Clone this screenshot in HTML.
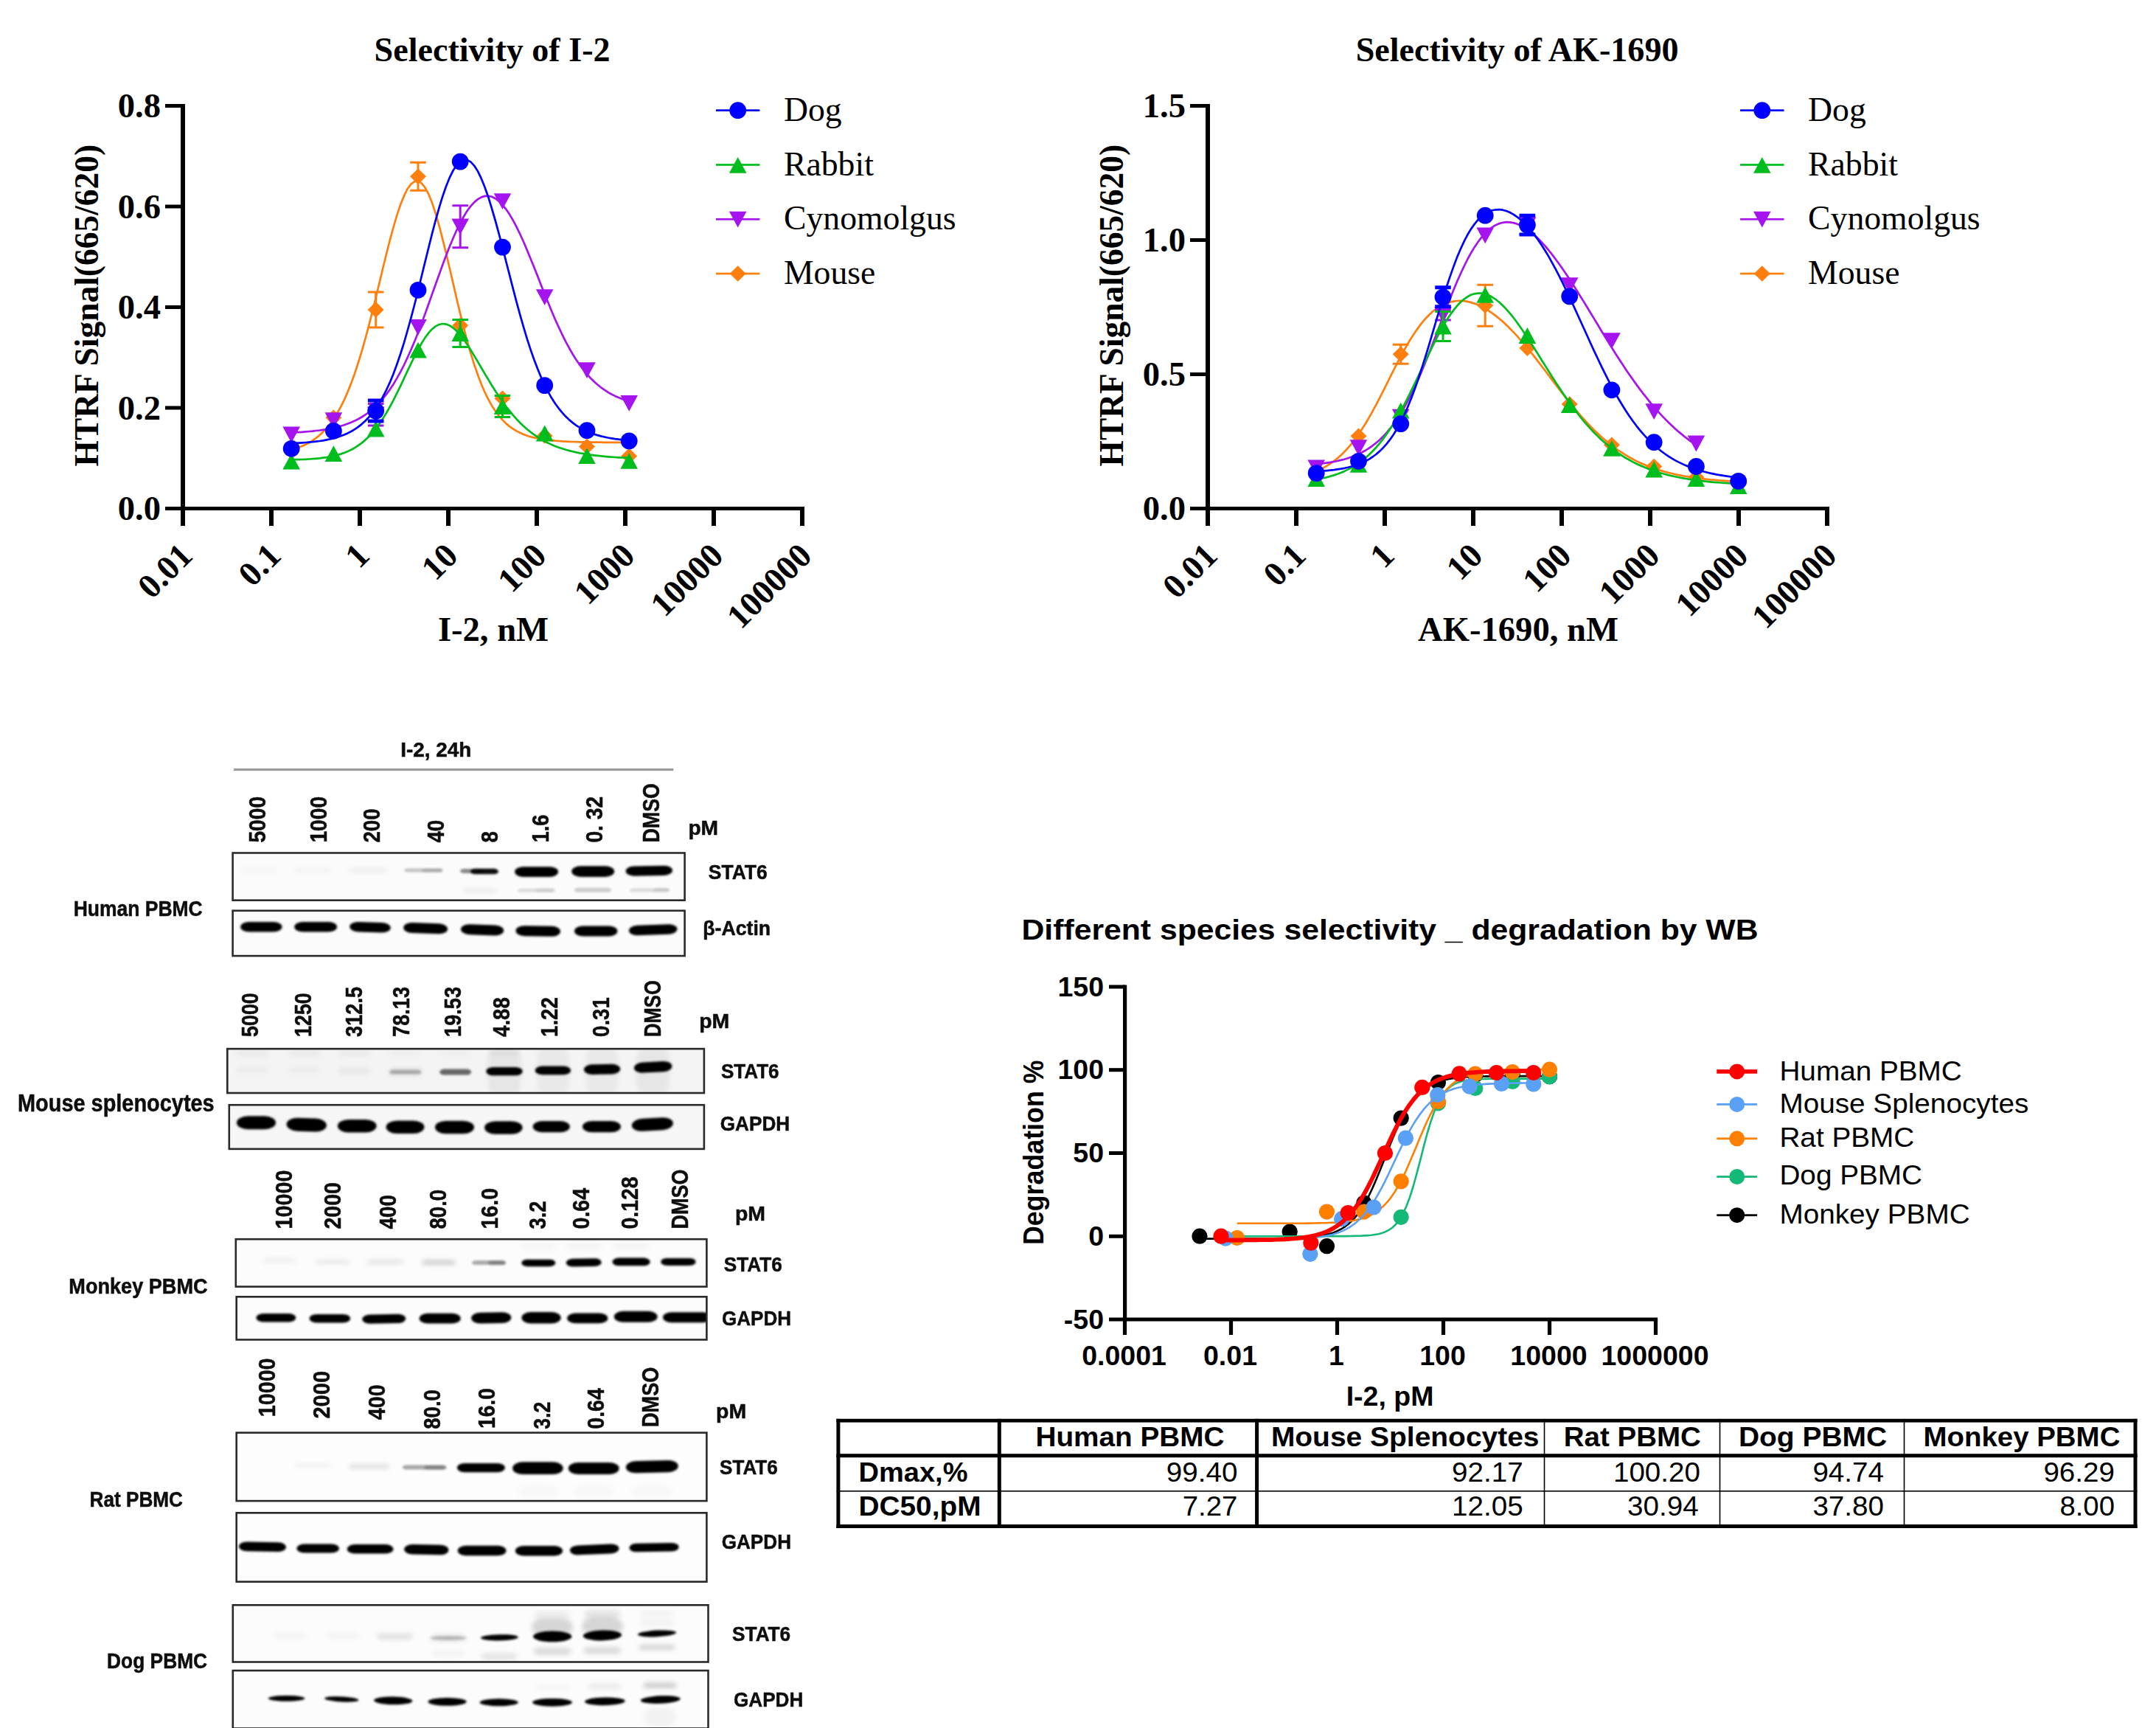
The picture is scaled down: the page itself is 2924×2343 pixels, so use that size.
<!DOCTYPE html>
<html><head><meta charset="utf-8"><title>Species selectivity</title>
<style>
html,body{margin:0;padding:0;background:#fff}
body{width:2924px;height:2343px;overflow:hidden}
svg{display:block}
text{white-space:pre}
</style></head><body>
<svg width="2924" height="2343" viewBox="0 0 2924 2343">
<defs>
<filter id="bl" x="-5%" y="-50%" width="110%" height="200%"><feGaussianBlur stdDeviation="1.5"/></filter>
<filter id="bl2" x="-5%" y="-50%" width="110%" height="200%"><feGaussianBlur stdDeviation="3.2"/></filter>
<filter id="tb" x="-3%" y="-12%" width="106%" height="124%"><feGaussianBlur stdDeviation="0.65"/></filter>
</defs>
<rect width="2924" height="2343" fill="#fff"/>
<g font-family="'Liberation Serif','DejaVu Serif',serif" font-weight="bold" font-size="46.6" fill="#000">
<text x="667.6" y="83" text-anchor="middle" font-size="46.1">Selectivity of I-2</text>
<rect x="245" y="141.0" width="6" height="551.0" fill="#000"/>
<rect x="224" y="687.0" width="867" height="5" fill="#000"/>
<text x="218" y="705.1" text-anchor="end">0.0</text>
<rect x="224" y="550.5" width="24" height="5" fill="#000"/>
<text x="218" y="568.6" text-anchor="end">0.2</text>
<rect x="224" y="414.0" width="24" height="5" fill="#000"/>
<text x="218" y="432.1" text-anchor="end">0.4</text>
<rect x="224" y="277.5" width="24" height="5" fill="#000"/>
<text x="218" y="295.6" text-anchor="end">0.6</text>
<rect x="224" y="141.0" width="24" height="5" fill="#000"/>
<text x="218" y="159.1" text-anchor="end">0.8</text>
<rect x="245" y="689.5" width="6" height="23.5" fill="#000"/>
<text transform="translate(263.5,756) rotate(-45)" text-anchor="end">0.01</text>
<rect x="365" y="689.5" width="6" height="23.5" fill="#000"/>
<text transform="translate(383.5,756) rotate(-45)" text-anchor="end">0.1</text>
<rect x="485" y="689.5" width="6" height="23.5" fill="#000"/>
<text transform="translate(503.5,756) rotate(-45)" text-anchor="end">1</text>
<rect x="605" y="689.5" width="6" height="23.5" fill="#000"/>
<text transform="translate(623.5,756) rotate(-45)" text-anchor="end">10</text>
<rect x="725" y="689.5" width="6" height="23.5" fill="#000"/>
<text transform="translate(743.5,756) rotate(-45)" text-anchor="end">100</text>
<rect x="845" y="689.5" width="6" height="23.5" fill="#000"/>
<text transform="translate(863.5,756) rotate(-45)" text-anchor="end">1000</text>
<rect x="965" y="689.5" width="6" height="23.5" fill="#000"/>
<text transform="translate(983.5,756) rotate(-45)" text-anchor="end">10000</text>
<rect x="1085" y="689.5" width="6" height="23.5" fill="#000"/>
<text transform="translate(1103.5,756) rotate(-45)" text-anchor="end">100000</text>
<text x="669" y="868.5" text-anchor="middle">I-2, nM</text>
<text transform="translate(133,632.4) rotate(-90)" font-size="47.2" textLength="436.5" lengthAdjust="spacingAndGlyphs">HTRF Signal(665/620)</text>
</g>
<path d="M395.2,609.9L400.0,608.5L404.7,606.8L409.5,605.0L414.3,602.8L419.1,600.3L423.8,597.4L428.6,594.0L433.4,590.1L438.1,585.7L442.9,580.6L447.7,574.7L452.4,568.1L457.2,560.5L462.0,551.9L466.8,542.3L471.5,531.6L476.3,519.6L481.1,506.4L485.8,492.0L490.6,476.3L495.4,459.5L500.2,441.6L504.9,422.9L509.7,403.5L514.5,383.8L519.2,364.0L524.0,344.5L528.8,325.7L533.6,308.0L538.3,291.9L543.1,277.6L547.9,265.7L552.6,256.2L557.4,249.6L562.2,246.1L567.0,245.6L571.7,248.4L576.5,254.3L581.3,263.3L586.0,275.1L590.8,289.4L595.6,306.0L600.3,324.3L605.1,343.8L609.9,364.2L614.7,384.9L619.4,405.4L624.2,425.4L629.0,444.6L633.7,462.6L638.5,479.4L643.3,494.7L648.1,508.5L652.8,521.0L657.6,532.0L662.4,541.7L667.1,550.2L671.9,557.5L676.7,563.9L681.5,569.4L686.2,574.1L691.0,578.1L695.8,581.5L700.5,584.4L705.3,586.8L710.1,588.9L714.8,590.7L719.6,592.2L724.4,593.4L729.2,594.5L733.9,595.3L738.7,596.1L743.5,596.7L748.2,597.2L753.0,597.7L757.8,598.0L762.6,598.4L767.3,598.6L772.1,598.8L776.9,599.0L781.6,599.2L786.4,599.3L791.2,599.4L796.0,599.5L800.7,599.6L805.5,599.6L810.3,599.7L815.0,599.7L819.8,599.8L824.6,599.8L829.3,599.8L834.1,599.8L838.9,599.9L843.7,599.9L848.4,599.9L853.2,599.9" fill="none" stroke="#ff7f0e" stroke-width="2.7" stroke-linejoin="round"/>
<path d="M509.7,395.9V443.9M498.9,395.9H520.5M498.9,443.9H520.5" stroke="#ff7f0e" stroke-width="3" fill="none"/>
<path d="M567.0,220.3V258.3M556.2,220.3H577.8M556.2,258.3H577.8" stroke="#ff7f0e" stroke-width="3" fill="none"/>
<polygon points="384.2,611.0 395.2,600.2 406.2,611.0 395.2,621.8" fill="#ff7f0e"/>
<polygon points="441.4,566.3 452.4,555.5 463.4,566.3 452.4,577.1" fill="#ff7f0e"/>
<polygon points="498.7,419.9 509.7,409.1 520.7,419.9 509.7,430.7" fill="#ff7f0e"/>
<polygon points="556.0,239.3 567.0,228.5 578.0,239.3 567.0,250.1" fill="#ff7f0e"/>
<polygon points="613.2,441.3 624.2,430.5 635.2,441.3 624.2,452.1" fill="#ff7f0e"/>
<polygon points="670.5,540.3 681.5,529.5 692.5,540.3 681.5,551.1" fill="#ff7f0e"/>
<polygon points="727.7,590.9 738.7,580.1 749.7,590.9 738.7,601.7" fill="#ff7f0e"/>
<polygon points="785.0,605.4 796.0,594.6 807.0,605.4 796.0,616.2" fill="#ff7f0e"/>
<polygon points="842.2,618.4 853.2,607.6 864.2,618.4 853.2,629.2" fill="#ff7f0e"/>
<path d="M395.2,586.6L400.0,586.3L404.7,586.1L409.5,585.8L414.3,585.4L419.1,585.0L423.8,584.6L428.6,584.0L433.4,583.5L438.1,582.8L442.9,582.0L447.7,581.1L452.4,580.2L457.2,579.0L462.0,577.7L466.8,576.3L471.5,574.6L476.3,572.7L481.1,570.6L485.8,568.2L490.6,565.5L495.4,562.4L500.2,559.0L504.9,555.1L509.7,550.8L514.5,546.0L519.2,540.6L524.0,534.7L528.8,528.1L533.6,520.9L538.3,512.9L543.1,504.3L547.9,495.0L552.6,485.0L557.4,474.3L562.2,462.9L567.0,450.9L571.7,438.5L576.5,425.6L581.3,412.3L586.0,398.9L590.8,385.5L595.6,372.1L600.3,359.0L605.1,346.3L609.9,334.1L614.7,322.6L619.4,312.0L624.2,302.2L629.0,293.5L633.7,285.8L638.5,279.4L643.3,274.1L648.1,270.1L652.8,267.4L657.6,265.9L662.4,265.7L667.1,266.8L671.9,269.2L676.7,272.8L681.5,277.6L686.2,283.6L691.0,290.6L695.8,298.7L700.5,307.7L705.3,317.5L710.1,328.0L714.8,339.1L719.6,350.7L724.4,362.5L729.2,374.6L733.9,386.7L738.7,398.8L743.5,410.6L748.2,422.1L753.0,433.2L757.8,443.8L762.6,453.9L767.3,463.4L772.1,472.2L776.9,480.5L781.6,488.1L786.4,495.0L791.2,501.4L796.0,507.2L800.7,512.5L805.5,517.2L810.3,521.5L815.0,525.3L819.8,528.7L824.6,531.8L829.3,534.5L834.1,536.9L838.9,539.1L843.7,541.0L848.4,542.6L853.2,544.1" fill="none" stroke="#a514ee" stroke-width="2.7" stroke-linejoin="round"/>
<path d="M509.7,547.6V577.0M498.9,547.6H520.5M498.9,577.0H520.5" stroke="#a514ee" stroke-width="3" fill="none"/>
<path d="M624.2,278.8V335.8M613.4,278.8H635.0M613.4,335.8H635.0" stroke="#a514ee" stroke-width="3" fill="none"/>
<polygon points="383.4,578.6 407.0,578.6 395.2,600.4" fill="#a514ee"/>
<polygon points="440.6,559.2 464.2,559.2 452.4,581.0" fill="#a514ee"/>
<polygon points="497.9,551.4 521.5,551.4 509.7,573.2" fill="#a514ee"/>
<polygon points="555.2,433.0 578.8,433.0 567.0,454.8" fill="#a514ee"/>
<polygon points="612.4,296.4 636.0,296.4 624.2,318.2" fill="#a514ee"/>
<polygon points="669.7,262.3 693.2,262.3 681.5,284.1" fill="#a514ee"/>
<polygon points="726.9,392.2 750.5,392.2 738.7,414.0" fill="#a514ee"/>
<polygon points="784.2,491.2 807.8,491.2 796.0,513.0" fill="#a514ee"/>
<polygon points="841.4,536.0 865.0,536.0 853.2,557.8" fill="#a514ee"/>
<path d="M395.2,623.3L400.0,623.2L404.7,623.1L409.5,623.0L414.3,622.8L419.1,622.5L423.8,622.2L428.6,621.8L433.4,621.3L438.1,620.7L442.9,620.1L447.7,619.2L452.4,618.2L457.2,617.0L462.0,615.6L466.8,614.0L471.5,612.1L476.3,609.8L481.1,607.2L485.8,604.1L490.6,600.6L495.4,596.6L500.2,592.1L504.9,586.9L509.7,581.1L514.5,574.7L519.2,567.6L524.0,559.9L528.8,551.5L533.6,542.6L538.3,533.2L543.1,523.3L547.9,513.2L552.6,503.1L557.4,493.0L562.2,483.2L567.0,474.0L571.7,465.5L576.5,457.9L581.3,451.4L586.0,446.2L590.8,442.4L595.6,440.0L600.3,439.0L605.1,439.6L609.9,441.4L614.7,444.6L619.4,448.9L624.2,454.2L629.0,460.4L633.7,467.3L638.5,474.7L643.3,482.6L648.1,490.6L652.8,498.7L657.6,506.9L662.4,514.9L667.1,522.7L671.9,530.3L676.7,537.5L681.5,544.5L686.2,551.0L691.0,557.1L695.8,562.9L700.5,568.2L705.3,573.2L710.1,577.8L714.8,582.0L719.6,585.8L724.4,589.4L729.2,592.6L733.9,595.6L738.7,598.3L743.5,600.7L748.2,602.9L753.0,604.9L757.8,606.7L762.6,608.3L767.3,609.8L772.1,611.1L776.9,612.3L781.6,613.4L786.4,614.4L791.2,615.2L796.0,616.0L800.7,616.7L805.5,617.3L810.3,617.9L815.0,618.4L819.8,618.9L824.6,619.3L829.3,619.6L834.1,620.0L838.9,620.3L843.7,620.5L848.4,620.7L853.2,621.0" fill="none" stroke="#00bd1e" stroke-width="2.7" stroke-linejoin="round"/>
<path d="M624.2,433.5V470.5M613.4,433.5H635.0M613.4,470.5H635.0" stroke="#00bd1e" stroke-width="3" fill="none"/>
<path d="M681.5,536.5V565.5M670.7,536.5H692.2M670.7,565.5H692.2" stroke="#00bd1e" stroke-width="3" fill="none"/>
<polygon points="383.4,636.6 407.0,636.6 395.2,614.8" fill="#00bd1e"/>
<polygon points="440.6,626.1 464.2,626.1 452.4,604.3" fill="#00bd1e"/>
<polygon points="497.9,592.6 521.5,592.6 509.7,570.8" fill="#00bd1e"/>
<polygon points="555.2,485.5 578.8,485.5 567.0,463.7" fill="#00bd1e"/>
<polygon points="612.4,462.9 636.0,462.9 624.2,441.1" fill="#00bd1e"/>
<polygon points="669.7,561.9 693.2,561.9 681.5,540.1" fill="#00bd1e"/>
<polygon points="726.9,598.4 750.5,598.4 738.7,576.6" fill="#00bd1e"/>
<polygon points="784.2,629.0 807.8,629.0 796.0,607.2" fill="#00bd1e"/>
<polygon points="841.4,635.7 865.0,635.7 853.2,613.9" fill="#00bd1e"/>
<path d="M395.2,601.1L400.0,600.9L404.7,600.7L409.5,600.4L414.3,600.0L419.1,599.6L423.8,599.2L428.6,598.6L433.4,598.0L438.1,597.3L442.9,596.4L447.7,595.4L452.4,594.3L457.2,592.9L462.0,591.3L466.8,589.5L471.5,587.4L476.3,585.0L481.1,582.1L485.8,578.9L490.6,575.1L495.4,570.8L500.2,565.8L504.9,560.2L509.7,553.7L514.5,546.4L519.2,538.1L524.0,528.8L528.8,518.4L533.6,506.8L538.3,494.0L543.1,480.0L547.9,464.9L552.6,448.5L557.4,431.2L562.2,413.0L567.0,394.1L571.7,374.7L576.5,355.1L581.3,335.7L586.0,316.8L590.8,298.7L595.6,281.7L600.3,266.2L605.1,252.4L609.9,240.6L614.7,230.9L619.4,223.7L624.2,218.8L629.0,216.5L633.7,216.8L638.5,219.6L643.3,224.8L648.1,232.4L652.8,242.2L657.6,254.1L662.4,267.7L667.1,283.0L671.9,299.5L676.7,317.1L681.5,335.3L686.2,354.0L691.0,372.7L695.8,391.3L700.5,409.4L705.3,426.9L710.1,443.6L714.8,459.4L719.6,474.1L724.4,487.8L729.2,500.3L733.9,511.7L738.7,522.1L743.5,531.4L748.2,539.8L753.0,547.2L757.8,553.8L762.6,559.7L767.3,564.8L772.1,569.4L776.9,573.4L781.6,576.8L786.4,579.9L791.2,582.5L796.0,584.8L800.7,586.8L805.5,588.6L810.3,590.1L815.0,591.4L819.8,592.5L824.6,593.5L829.3,594.3L834.1,595.1L838.9,595.7L843.7,596.3L848.4,596.7L853.2,597.2" fill="none" stroke="#0000ff" stroke-width="2.7" stroke-linejoin="round"/>
<path d="M509.7,543.1V571.1M498.9,543.1H520.5M498.9,571.1H520.5" stroke="#0000ff" stroke-width="5" fill="none"/>
<circle cx="395.2" cy="608.3" r="11.4" fill="#0000ff"/>
<circle cx="452.4" cy="584.3" r="11.4" fill="#0000ff"/>
<circle cx="509.7" cy="557.1" r="11.4" fill="#0000ff"/>
<circle cx="567.0" cy="393.3" r="11.4" fill="#0000ff"/>
<circle cx="624.2" cy="219.1" r="11.4" fill="#0000ff"/>
<circle cx="681.5" cy="335.1" r="11.4" fill="#0000ff"/>
<circle cx="738.7" cy="522.6" r="11.4" fill="#0000ff"/>
<circle cx="796.0" cy="583.7" r="11.4" fill="#0000ff"/>
<circle cx="853.2" cy="597.9" r="11.4" fill="#0000ff"/>
<g font-family="'Liberation Serif','DejaVu Serif',serif" font-size="45.7" fill="#000">
<rect x="971.0" y="148.3" width="59.4" height="2.7" fill="#0000ff"/>
<circle cx="1000.7" cy="149.7" r="11.4" fill="#0000ff"/>
<text x="1063" y="163.7">Dog</text>
<rect x="971.0" y="222.1" width="59.4" height="2.7" fill="#00bd1e"/>
<polygon points="988.9,234.8 1012.5,234.8 1000.7,213.0" fill="#00bd1e"/>
<text x="1063" y="237.5">Rabbit</text>
<rect x="971.0" y="295.9" width="59.4" height="2.7" fill="#a514ee"/>
<polygon points="988.9,286.7 1012.5,286.7 1000.7,308.5" fill="#a514ee"/>
<text x="1063" y="311.2">Cynomolgus</text>
<rect x="971.0" y="369.7" width="59.4" height="2.7" fill="#ff7f0e"/>
<polygon points="989.7,371.0 1000.7,360.2 1011.7,371.0 1000.7,381.8" fill="#ff7f0e"/>
<text x="1063" y="385.0">Mouse</text>
</g>
<g font-family="'Liberation Serif','DejaVu Serif',serif" font-weight="bold" font-size="46.6" fill="#000">
<text x="2057.6" y="83" text-anchor="middle" font-size="46.1">Selectivity of AK-1690</text>
<rect x="1635" y="141.0" width="6" height="551.0" fill="#000"/>
<rect x="1614" y="687.0" width="867" height="5" fill="#000"/>
<text x="1608" y="705.1" text-anchor="end">0.0</text>
<rect x="1614" y="505.0" width="24" height="5" fill="#000"/>
<text x="1608" y="523.1" text-anchor="end">0.5</text>
<rect x="1614" y="323.0" width="24" height="5" fill="#000"/>
<text x="1608" y="341.1" text-anchor="end">1.0</text>
<rect x="1614" y="141.0" width="24" height="5" fill="#000"/>
<text x="1608" y="159.1" text-anchor="end">1.5</text>
<rect x="1635" y="689.5" width="6" height="23.5" fill="#000"/>
<text transform="translate(1653.5,756) rotate(-45)" text-anchor="end">0.01</text>
<rect x="1755" y="689.5" width="6" height="23.5" fill="#000"/>
<text transform="translate(1773.5,756) rotate(-45)" text-anchor="end">0.1</text>
<rect x="1875" y="689.5" width="6" height="23.5" fill="#000"/>
<text transform="translate(1893.5,756) rotate(-45)" text-anchor="end">1</text>
<rect x="1995" y="689.5" width="6" height="23.5" fill="#000"/>
<text transform="translate(2013.5,756) rotate(-45)" text-anchor="end">10</text>
<rect x="2115" y="689.5" width="6" height="23.5" fill="#000"/>
<text transform="translate(2133.5,756) rotate(-45)" text-anchor="end">100</text>
<rect x="2235" y="689.5" width="6" height="23.5" fill="#000"/>
<text transform="translate(2253.5,756) rotate(-45)" text-anchor="end">1000</text>
<rect x="2355" y="689.5" width="6" height="23.5" fill="#000"/>
<text transform="translate(2373.5,756) rotate(-45)" text-anchor="end">10000</text>
<rect x="2475" y="689.5" width="6" height="23.5" fill="#000"/>
<text transform="translate(2493.5,756) rotate(-45)" text-anchor="end">100000</text>
<text x="2059" y="868.5" text-anchor="middle">AK-1690, nM</text>
<text transform="translate(1523,632.4) rotate(-90)" font-size="47.2" textLength="436.5" lengthAdjust="spacingAndGlyphs">HTRF Signal(665/620)</text>
</g>
<path d="M1785.2,639.0L1790.0,636.9L1794.7,634.4L1799.5,631.7L1804.3,628.7L1809.1,625.2L1813.8,621.4L1818.6,617.2L1823.4,612.5L1828.1,607.4L1832.9,601.8L1837.7,595.6L1842.5,589.0L1847.2,581.8L1852.0,574.2L1856.8,566.1L1861.5,557.6L1866.3,548.8L1871.1,539.6L1875.8,530.3L1880.6,520.8L1885.4,511.2L1890.2,501.7L1894.9,492.4L1899.7,483.3L1904.5,474.5L1909.2,466.2L1914.0,458.3L1918.8,450.9L1923.6,444.1L1928.3,437.9L1933.1,432.2L1937.9,427.2L1942.6,422.8L1947.4,419.1L1952.2,415.9L1957.0,413.2L1961.7,411.2L1966.5,409.6L1971.3,408.6L1976.0,408.0L1980.8,407.9L1985.6,408.2L1990.3,408.9L1995.1,410.1L1999.9,411.6L2004.7,413.5L2009.4,415.8L2014.2,418.4L2019.0,421.3L2023.7,424.6L2028.5,428.1L2033.3,432.0L2038.1,436.1L2042.8,440.5L2047.6,445.2L2052.4,450.1L2057.1,455.2L2061.9,460.6L2066.7,466.1L2071.4,471.8L2076.2,477.7L2081.0,483.7L2085.8,489.8L2090.5,496.0L2095.3,502.3L2100.1,508.6L2104.8,514.9L2109.6,521.2L2114.4,527.4L2119.2,533.6L2123.9,539.7L2128.7,545.7L2133.5,551.5L2138.2,557.2L2143.0,562.8L2147.8,568.2L2152.6,573.4L2157.3,578.4L2162.1,583.2L2166.9,587.8L2171.6,592.2L2176.4,596.4L2181.2,600.4L2185.9,604.1L2190.7,607.7L2195.5,611.1L2200.3,614.2L2205.0,617.2L2209.8,620.0L2214.6,622.6L2219.3,625.1L2224.1,627.4L2228.9,629.5L2233.7,631.5L2238.4,633.3L2243.2,635.1L2248.0,636.7L2252.7,638.1L2257.5,639.5L2262.3,640.8L2267.1,642.0L2271.8,643.1L2276.6,644.1L2281.4,645.0L2286.1,645.9L2290.9,646.7L2295.7,647.4L2300.4,648.1L2305.2,648.7L2310.0,649.3L2314.8,649.8L2319.5,650.3L2324.3,650.7L2329.1,651.2L2333.8,651.5L2338.6,651.9L2343.4,652.2L2348.2,652.5L2352.9,652.8L2357.7,653.0" fill="none" stroke="#ff7f0e" stroke-width="2.7" stroke-linejoin="round"/>
<path d="M1899.7,467.3V493.3M1888.9,467.3H1910.5M1888.9,493.3H1910.5" stroke="#ff7f0e" stroke-width="3" fill="none"/>
<path d="M2014.2,386.3V442.3M2003.4,386.3H2025.0M2003.4,442.3H2025.0" stroke="#ff7f0e" stroke-width="3" fill="none"/>
<polygon points="1774.2,638.0 1785.2,627.2 1796.2,638.0 1785.2,648.8" fill="#ff7f0e"/>
<polygon points="1831.5,591.2 1842.5,580.4 1853.5,591.2 1842.5,602.0" fill="#ff7f0e"/>
<polygon points="1888.7,480.3 1899.7,469.5 1910.7,480.3 1899.7,491.1" fill="#ff7f0e"/>
<polygon points="1946.0,417.9 1957.0,407.1 1968.0,417.9 1957.0,428.7" fill="#ff7f0e"/>
<polygon points="2003.2,414.3 2014.2,403.5 2025.2,414.3 2014.2,425.1" fill="#ff7f0e"/>
<polygon points="2060.4,472.1 2071.4,461.3 2082.4,472.1 2071.4,482.9" fill="#ff7f0e"/>
<polygon points="2117.7,548.1 2128.7,537.3 2139.7,548.1 2128.7,558.9" fill="#ff7f0e"/>
<polygon points="2174.9,603.3 2185.9,592.5 2196.9,603.3 2185.9,614.1" fill="#ff7f0e"/>
<polygon points="2232.2,632.5 2243.2,621.7 2254.2,632.5 2243.2,643.3" fill="#ff7f0e"/>
<polygon points="2289.4,647.0 2300.4,636.2 2311.4,647.0 2300.4,657.8" fill="#ff7f0e"/>
<polygon points="2346.7,656.0 2357.7,645.2 2368.7,656.0 2357.7,666.8" fill="#ff7f0e"/>
<path d="M1785.2,629.3L1790.0,628.8L1794.7,628.2L1799.5,627.6L1804.3,626.9L1809.1,626.0L1813.8,625.0L1818.6,623.9L1823.4,622.7L1828.1,621.2L1832.9,619.6L1837.7,617.8L1842.5,615.7L1847.2,613.3L1852.0,610.7L1856.8,607.7L1861.5,604.3L1866.3,600.6L1871.1,596.4L1875.8,591.8L1880.6,586.6L1885.4,581.0L1890.2,574.7L1894.9,567.9L1899.7,560.5L1904.5,552.4L1909.2,543.7L1914.0,534.4L1918.8,524.5L1923.6,514.0L1928.3,502.9L1933.1,491.4L1937.9,479.5L1942.6,467.3L1947.4,454.9L1952.2,442.3L1957.0,429.8L1961.7,417.4L1966.5,405.2L1971.3,393.3L1976.0,382.0L1980.8,371.2L1985.6,361.0L1990.3,351.5L1995.1,342.8L1999.9,334.9L2004.7,327.8L2009.4,321.6L2014.2,316.3L2019.0,311.8L2023.7,308.1L2028.5,305.2L2033.3,303.1L2038.1,301.8L2042.8,301.2L2047.6,301.3L2052.4,302.1L2057.1,303.5L2061.9,305.5L2066.7,308.0L2071.4,311.1L2076.2,314.7L2081.0,318.7L2085.8,323.2L2090.5,328.1L2095.3,333.4L2100.1,339.0L2104.8,344.9L2109.6,351.2L2114.4,357.7L2119.2,364.5L2123.9,371.4L2128.7,378.6L2133.5,386.0L2138.2,393.5L2143.0,401.2L2147.8,408.9L2152.6,416.7L2157.3,424.5L2162.1,432.4L2166.9,440.3L2171.6,448.2L2176.4,456.0L2181.2,463.7L2185.9,471.4L2190.7,479.0L2195.5,486.4L2200.3,493.7L2205.0,500.9L2209.8,507.9L2214.6,514.8L2219.3,521.4L2224.1,527.9L2228.9,534.2L2233.7,540.2L2238.4,546.1L2243.2,551.7L2248.0,557.2L2252.7,562.4L2257.5,567.4L2262.3,572.2L2267.1,576.8L2271.8,581.2L2276.6,585.4L2281.4,589.4L2286.1,593.2L2290.9,596.8L2295.7,600.3L2300.4,603.5" fill="none" stroke="#a514ee" stroke-width="2.7" stroke-linejoin="round"/>
<path d="M1957.0,419.9V433.9M1946.2,419.9H1967.8M1946.2,433.9H1967.8" stroke="#a514ee" stroke-width="3" fill="none"/>
<path d="M2071.4,293.7V317.7M2060.6,293.7H2082.2M2060.6,317.7H2082.2" stroke="#a514ee" stroke-width="3" fill="none"/>
<polygon points="1773.4,623.4 1797.0,623.4 1785.2,645.2" fill="#a514ee"/>
<polygon points="1830.7,596.3 1854.2,596.3 1842.5,618.1" fill="#a514ee"/>
<polygon points="1887.9,554.7 1911.5,554.7 1899.7,576.5" fill="#a514ee"/>
<polygon points="1945.2,416.0 1968.8,416.0 1957.0,437.8" fill="#a514ee"/>
<polygon points="2002.4,308.4 2026.0,308.4 2014.2,330.2" fill="#a514ee"/>
<polygon points="2059.6,294.8 2083.2,294.8 2071.4,316.6" fill="#a514ee"/>
<polygon points="2116.9,376.2 2140.5,376.2 2128.7,398.0" fill="#a514ee"/>
<polygon points="2174.1,451.3 2197.8,451.3 2185.9,473.1" fill="#a514ee"/>
<polygon points="2231.4,547.2 2255.0,547.2 2243.2,569.0" fill="#a514ee"/>
<polygon points="2288.6,590.6 2312.2,590.6 2300.4,612.4" fill="#a514ee"/>
<path d="M1785.2,650.1L1790.0,649.2L1794.7,648.2L1799.5,647.1L1804.3,645.8L1809.1,644.4L1813.8,642.8L1818.6,641.0L1823.4,638.9L1828.1,636.6L1832.9,634.1L1837.7,631.3L1842.5,628.1L1847.2,624.6L1852.0,620.8L1856.8,616.5L1861.5,611.8L1866.3,606.7L1871.1,601.1L1875.8,595.1L1880.6,588.5L1885.4,581.5L1890.2,573.9L1894.9,565.9L1899.7,557.4L1904.5,548.6L1909.2,539.3L1914.0,529.7L1918.8,519.8L1923.6,509.8L1928.3,499.7L1933.1,489.6L1937.9,479.6L1942.6,469.8L1947.4,460.3L1952.2,451.2L1957.0,442.6L1961.7,434.6L1966.5,427.3L1971.3,420.6L1976.0,414.8L1980.8,409.8L1985.6,405.6L1990.3,402.3L1995.1,399.8L1999.9,398.3L2004.7,397.6L2009.4,397.7L2014.2,398.6L2019.0,400.3L2023.7,402.8L2028.5,406.0L2033.3,409.8L2038.1,414.2L2042.8,419.1L2047.6,424.6L2052.4,430.5L2057.1,436.8L2061.9,443.5L2066.7,450.4L2071.4,457.6L2076.2,465.0L2081.0,472.5L2085.8,480.1L2090.5,487.7L2095.3,495.4L2100.1,503.0L2104.8,510.5L2109.6,517.9L2114.4,525.3L2119.2,532.4L2123.9,539.3L2128.7,546.1L2133.5,552.6L2138.2,558.9L2143.0,565.0L2147.8,570.8L2152.6,576.3L2157.3,581.6L2162.1,586.7L2166.9,591.4L2171.6,596.0L2176.4,600.2L2181.2,604.3L2185.9,608.1L2190.7,611.7L2195.5,615.0L2200.3,618.1L2205.0,621.1L2209.8,623.8L2214.6,626.4L2219.3,628.8L2224.1,631.0L2228.9,633.1L2233.7,635.1L2238.4,636.9L2243.2,638.5L2248.0,640.1L2252.7,641.5L2257.5,642.8L2262.3,644.1L2267.1,645.2L2271.8,646.3L2276.6,647.3L2281.4,648.2L2286.1,649.0L2290.9,649.8L2295.7,650.5L2300.4,651.1L2305.2,651.8L2310.0,652.3L2314.8,652.8L2319.5,653.3L2324.3,653.8L2329.1,654.2L2333.8,654.5L2338.6,654.9L2343.4,655.2L2348.2,655.5L2352.9,655.8L2357.7,656.0" fill="none" stroke="#00bd1e" stroke-width="2.7" stroke-linejoin="round"/>
<path d="M1957.0,422.6V462.6M1946.2,422.6H1967.8M1946.2,462.6H1967.8" stroke="#00bd1e" stroke-width="3" fill="none"/>
<polygon points="1773.4,660.0 1797.0,660.0 1785.2,638.2" fill="#00bd1e"/>
<polygon points="1830.7,640.7 1854.2,640.7 1842.5,618.9" fill="#00bd1e"/>
<polygon points="1887.9,567.5 1911.5,567.5 1899.7,545.7" fill="#00bd1e"/>
<polygon points="1945.2,453.5 1968.8,453.5 1957.0,431.7" fill="#00bd1e"/>
<polygon points="2002.4,410.7 2026.0,410.7 2014.2,388.9" fill="#00bd1e"/>
<polygon points="2059.6,465.9 2083.2,465.9 2071.4,444.1" fill="#00bd1e"/>
<polygon points="2116.9,559.9 2140.5,559.9 2128.7,538.1" fill="#00bd1e"/>
<polygon points="2174.1,618.7 2197.8,618.7 2185.9,596.9" fill="#00bd1e"/>
<polygon points="2231.4,647.4 2255.0,647.4 2243.2,625.6" fill="#00bd1e"/>
<polygon points="2288.6,660.0 2312.2,660.0 2300.4,638.2" fill="#00bd1e"/>
<polygon points="2345.9,670.0 2369.5,670.0 2357.7,648.2" fill="#00bd1e"/>
<path d="M1785.2,639.1L1790.0,638.8L1794.7,638.5L1799.5,638.1L1804.3,637.6L1809.1,637.1L1813.8,636.4L1818.6,635.7L1823.4,634.8L1828.1,633.8L1832.9,632.5L1837.7,631.1L1842.5,629.4L1847.2,627.5L1852.0,625.2L1856.8,622.6L1861.5,619.5L1866.3,616.0L1871.1,611.9L1875.8,607.2L1880.6,601.9L1885.4,595.7L1890.2,588.8L1894.9,581.0L1899.7,572.2L1904.5,562.5L1909.2,551.7L1914.0,540.0L1918.8,527.2L1923.6,513.6L1928.3,499.1L1933.1,484.0L1937.9,468.3L1942.6,452.3L1947.4,436.2L1952.2,420.2L1957.0,404.6L1961.7,389.5L1966.5,375.1L1971.3,361.6L1976.0,349.1L1980.8,337.7L1985.6,327.4L1990.3,318.3L1995.1,310.4L1999.9,303.6L2004.7,297.9L2009.4,293.3L2014.2,289.7L2019.0,287.0L2023.7,285.3L2028.5,284.3L2033.3,284.2L2038.1,284.7L2042.8,286.0L2047.6,288.0L2052.4,290.6L2057.1,293.8L2061.9,297.6L2066.7,302.0L2071.4,306.9L2076.2,312.4L2081.0,318.4L2085.8,324.9L2090.5,332.0L2095.3,339.5L2100.1,347.4L2104.8,355.8L2109.6,364.6L2114.4,373.8L2119.2,383.3L2123.9,393.1L2128.7,403.2L2133.5,413.4L2138.2,423.8L2143.0,434.3L2147.8,444.8L2152.6,455.3L2157.3,465.8L2162.1,476.1L2166.9,486.3L2171.6,496.2L2176.4,505.9L2181.2,515.3L2185.9,524.4L2190.7,533.1L2195.5,541.5L2200.3,549.5L2205.0,557.0L2209.8,564.2L2214.6,571.0L2219.3,577.3L2224.1,583.3L2228.9,588.9L2233.7,594.1L2238.4,598.9L2243.2,603.4L2248.0,607.6L2252.7,611.5L2257.5,615.0L2262.3,618.3L2267.1,621.3L2271.8,624.1L2276.6,626.6L2281.4,628.9L2286.1,631.1L2290.9,633.0L2295.7,634.8L2300.4,636.4L2305.2,637.9L2310.0,639.3L2314.8,640.5L2319.5,641.6L2324.3,642.6L2329.1,643.6L2333.8,644.4L2338.6,645.2L2343.4,645.9L2348.2,646.5L2352.9,647.1L2357.7,647.6" fill="none" stroke="#0000ff" stroke-width="2.7" stroke-linejoin="round"/>
<path d="M1957.0,389.8V415.8M1946.2,389.8H1967.8M1946.2,415.8H1967.8" stroke="#0000ff" stroke-width="5" fill="none"/>
<path d="M2071.4,292.3V317.9M2060.6,292.3H2082.2M2060.6,317.9H2082.2" stroke="#0000ff" stroke-width="5" fill="none"/>
<circle cx="1785.2" cy="641.6" r="11.4" fill="#0000ff"/>
<circle cx="1842.5" cy="625.3" r="11.4" fill="#0000ff"/>
<circle cx="1899.7" cy="574.7" r="11.4" fill="#0000ff"/>
<circle cx="1957.0" cy="402.8" r="11.4" fill="#0000ff"/>
<circle cx="2014.2" cy="292.2" r="11.4" fill="#0000ff"/>
<circle cx="2071.4" cy="305.1" r="11.4" fill="#0000ff"/>
<circle cx="2128.7" cy="401.9" r="11.4" fill="#0000ff"/>
<circle cx="2185.9" cy="528.8" r="11.4" fill="#0000ff"/>
<circle cx="2243.2" cy="599.7" r="11.4" fill="#0000ff"/>
<circle cx="2300.4" cy="632.5" r="11.4" fill="#0000ff"/>
<circle cx="2357.7" cy="652.4" r="11.4" fill="#0000ff"/>
<g font-family="'Liberation Serif','DejaVu Serif',serif" font-size="45.7" fill="#000">
<rect x="2360.1" y="148.3" width="59.4" height="2.7" fill="#0000ff"/>
<circle cx="2389.8" cy="149.7" r="11.4" fill="#0000ff"/>
<text x="2452.1" y="163.7">Dog</text>
<rect x="2360.1" y="222.1" width="59.4" height="2.7" fill="#00bd1e"/>
<polygon points="2378.0,234.8 2401.6,234.8 2389.8,213.0" fill="#00bd1e"/>
<text x="2452.1" y="237.5">Rabbit</text>
<rect x="2360.1" y="295.9" width="59.4" height="2.7" fill="#a514ee"/>
<polygon points="2378.0,286.7 2401.6,286.7 2389.8,308.5" fill="#a514ee"/>
<text x="2452.1" y="311.2">Cynomolgus</text>
<rect x="2360.1" y="369.7" width="59.4" height="2.7" fill="#ff7f0e"/>
<polygon points="2378.8,371.0 2389.8,360.2 2400.8,371.0 2389.8,381.8" fill="#ff7f0e"/>
<text x="2452.1" y="385.0">Mouse</text>
</g>
<g font-family="'Liberation Sans','DejaVu Sans',sans-serif" font-weight="bold" font-size="37.5" fill="#000">
<text x="1385.5" y="1273.5" font-size="38.5" textLength="999" lengthAdjust="spacingAndGlyphs">Different species selectivity _ degradation by WB</text>
<rect x="1523.0" y="1335.5" width="5.2" height="456" fill="#000"/>
<rect x="1504.0" y="1786.5" width="744.1" height="5" fill="#000"/>
<text x="1497.0" y="1801.6" text-anchor="end">-50</text>
<rect x="1504.0" y="1673.8" width="21.5" height="5" fill="#000"/>
<text x="1497.0" y="1688.8" text-anchor="end">0</text>
<rect x="1504.0" y="1561.0" width="21.5" height="5" fill="#000"/>
<text x="1497.0" y="1576.1" text-anchor="end">50</text>
<rect x="1504.0" y="1448.2" width="21.5" height="5" fill="#000"/>
<text x="1497.0" y="1463.3" text-anchor="end">100</text>
<rect x="1504.0" y="1335.5" width="21.5" height="5" fill="#000"/>
<text x="1497.0" y="1350.6" text-anchor="end">150</text>
<rect x="1522.9" y="1789" width="5.2" height="21" fill="#000"/>
<text x="1524.5" y="1850.5" text-anchor="middle">0.0001</text>
<rect x="1666.9" y="1789" width="5.2" height="21" fill="#000"/>
<text x="1668.5" y="1850.5" text-anchor="middle">0.01</text>
<rect x="1810.9" y="1789" width="5.2" height="21" fill="#000"/>
<text x="1812.5" y="1850.5" text-anchor="middle">1</text>
<rect x="1954.9" y="1789" width="5.2" height="21" fill="#000"/>
<text x="1956.5" y="1850.5" text-anchor="middle">100</text>
<rect x="2098.9" y="1789" width="5.2" height="21" fill="#000"/>
<text x="2100.5" y="1850.5" text-anchor="middle">10000</text>
<rect x="2242.9" y="1789" width="5.2" height="21" fill="#000"/>
<text x="2244.5" y="1850.5" text-anchor="middle">1000000</text>
<text x="1885" y="1905.5" text-anchor="middle">I-2, pM</text>
<text transform="translate(1414.6,1688) rotate(-90)" font-size="39" textLength="250.5" lengthAdjust="spacingAndGlyphs">Degradation %</text>
</g>
<path d="M1627.0,1679.6L1632.3,1679.6L1637.7,1679.6L1643.0,1679.6L1648.3,1679.6L1653.7,1679.6L1659.0,1679.6L1664.3,1679.6L1669.7,1679.6L1675.0,1679.6L1680.3,1679.6L1685.6,1679.6L1691.0,1679.5L1696.3,1679.5L1701.6,1679.5L1707.0,1679.5L1712.3,1679.5L1717.6,1679.5L1723.0,1679.4L1728.3,1679.4L1733.6,1679.3L1739.0,1679.2L1744.3,1679.1L1749.6,1679.0L1755.0,1678.9L1760.3,1678.7L1765.6,1678.4L1770.9,1678.1L1776.3,1677.7L1781.6,1677.1L1786.9,1676.5L1792.3,1675.6L1797.6,1674.5L1802.9,1673.1L1808.3,1671.4L1813.6,1669.2L1818.9,1666.5L1824.3,1663.1L1829.6,1658.9L1834.9,1653.8L1840.3,1647.6L1845.6,1640.2L1850.9,1631.6L1856.3,1621.7L1861.6,1610.5L1866.9,1598.3L1872.2,1585.3L1877.6,1571.7L1882.9,1558.1L1888.2,1544.9L1893.6,1532.3L1898.9,1520.8L1904.2,1510.4L1909.6,1501.3L1914.9,1493.5L1920.2,1486.9L1925.6,1481.4L1930.9,1476.9L1936.2,1473.3L1941.6,1470.3L1946.9,1468.0L1952.2,1466.1L1957.6,1464.6L1962.9,1463.4L1968.2,1462.5L1973.5,1461.7L1978.9,1461.1L1984.2,1460.7L1989.5,1460.3L1994.9,1460.1L2000.2,1459.8L2005.5,1459.7L2010.9,1459.5L2016.2,1459.4L2021.5,1459.4L2026.9,1459.3L2032.2,1459.2L2037.5,1459.2L2042.9,1459.2L2048.2,1459.2L2053.5,1459.1L2058.8,1459.1L2064.2,1459.1L2069.5,1459.1L2074.8,1459.1L2080.2,1459.1L2085.5,1459.1L2090.8,1459.1L2096.2,1459.1L2101.5,1459.1" fill="none" stroke="#000" stroke-width="2.6" stroke-linejoin="round" stroke-linecap="butt"/>
<circle cx="1627.0" cy="1676.2" r="10.6" fill="#000"/>
<circle cx="1749.2" cy="1670.1" r="10.6" fill="#000"/>
<circle cx="1799.5" cy="1689.7" r="10.6" fill="#000"/>
<circle cx="1849.9" cy="1631.1" r="10.6" fill="#000"/>
<circle cx="1900.2" cy="1516.1" r="10.6" fill="#000"/>
<circle cx="1950.5" cy="1467.6" r="10.6" fill="#000"/>
<circle cx="2000.8" cy="1457.5" r="10.6" fill="#000"/>
<circle cx="2051.2" cy="1456.3" r="10.6" fill="#000"/>
<circle cx="2101.5" cy="1459.7" r="10.6" fill="#000"/>
<path d="M1680.0,1676.2L1684.7,1676.2L1689.5,1676.2L1694.2,1676.2L1698.9,1676.2L1703.7,1676.2L1708.4,1676.2L1713.2,1676.2L1717.9,1676.2L1722.6,1676.2L1727.4,1676.2L1732.1,1676.2L1736.8,1676.2L1741.6,1676.2L1746.3,1676.2L1751.0,1676.2L1755.8,1676.2L1760.5,1676.2L1765.2,1676.2L1770.0,1676.2L1774.7,1676.2L1779.5,1676.2L1784.2,1676.2L1788.9,1676.2L1793.7,1676.2L1798.4,1676.2L1803.1,1676.2L1807.9,1676.2L1812.6,1676.2L1817.3,1676.1L1822.1,1676.1L1826.8,1676.1L1831.6,1676.0L1836.3,1675.9L1841.0,1675.8L1845.8,1675.7L1850.5,1675.4L1855.2,1675.1L1860.0,1674.7L1864.7,1674.0L1869.4,1673.2L1874.2,1671.9L1878.9,1670.2L1883.6,1667.8L1888.4,1664.5L1893.1,1660.0L1897.9,1653.9L1902.6,1645.9L1907.3,1635.7L1912.1,1623.0L1916.8,1608.0L1921.5,1590.9L1926.3,1572.6L1931.0,1554.1L1935.7,1536.5L1940.5,1520.6L1945.2,1507.1L1949.9,1496.1L1954.7,1487.4L1959.4,1480.7L1964.2,1475.7L1968.9,1472.0L1973.6,1469.3L1978.4,1467.4L1983.1,1466.0L1987.8,1465.0L1992.6,1464.3L1997.3,1463.8L2002.0,1463.4L2006.8,1463.2L2011.5,1463.0L2016.3,1462.9L2021.0,1462.8L2025.7,1462.7L2030.5,1462.7L2035.2,1462.6L2039.9,1462.6L2044.7,1462.6L2049.4,1462.6L2054.1,1462.6L2058.9,1462.6L2063.6,1462.6L2068.3,1462.6L2073.1,1462.6L2077.8,1462.6L2082.6,1462.6L2087.3,1462.6L2092.0,1462.6L2096.8,1462.6L2101.5,1462.6" fill="none" stroke="#14b978" stroke-width="2.6" stroke-linejoin="round" stroke-linecap="butt"/>
<circle cx="1900.2" cy="1650.3" r="10.6" fill="#14b978"/>
<circle cx="1950.5" cy="1495.8" r="10.6" fill="#14b978"/>
<circle cx="2000.8" cy="1475.5" r="10.6" fill="#14b978"/>
<circle cx="2051.2" cy="1466.5" r="10.6" fill="#14b978"/>
<circle cx="2101.5" cy="1459.7" r="10.6" fill="#14b978"/>
<path d="M1677.7,1658.8L1682.5,1658.8L1687.2,1658.8L1692.0,1658.8L1696.7,1658.8L1701.5,1658.8L1706.3,1658.8L1711.0,1658.8L1715.8,1658.8L1720.6,1658.8L1725.3,1658.8L1730.1,1658.8L1734.8,1658.8L1739.6,1658.8L1744.4,1658.8L1749.1,1658.8L1753.9,1658.7L1758.7,1658.7L1763.4,1658.7L1768.2,1658.7L1772.9,1658.6L1777.7,1658.6L1782.5,1658.5L1787.2,1658.4L1792.0,1658.3L1796.7,1658.2L1801.5,1658.0L1806.3,1657.8L1811.0,1657.6L1815.8,1657.2L1820.6,1656.9L1825.3,1656.4L1830.1,1655.8L1834.8,1655.0L1839.6,1654.1L1844.4,1653.0L1849.1,1651.6L1853.9,1649.9L1858.6,1647.8L1863.4,1645.2L1868.2,1642.1L1872.9,1638.4L1877.7,1634.0L1882.5,1628.7L1887.2,1622.6L1892.0,1615.5L1896.7,1607.4L1901.5,1598.4L1906.3,1588.5L1911.0,1577.8L1915.8,1566.6L1920.6,1555.2L1925.3,1543.7L1930.1,1532.5L1934.8,1521.8L1939.6,1511.8L1944.4,1502.7L1949.1,1494.5L1953.9,1487.3L1958.6,1481.0L1963.4,1475.7L1968.2,1471.1L1972.9,1467.3L1977.7,1464.2L1982.5,1461.6L1987.2,1459.4L1992.0,1457.7L1996.7,1456.2L2001.5,1455.1L2006.3,1454.1L2011.0,1453.4L2015.8,1452.8L2020.5,1452.3L2025.3,1451.9L2030.1,1451.6L2034.8,1451.3L2039.6,1451.1L2044.4,1450.9L2049.1,1450.8L2053.9,1450.7L2058.6,1450.6L2063.4,1450.5L2068.2,1450.5L2072.9,1450.4L2077.7,1450.4L2082.5,1450.4L2087.2,1450.3L2092.0,1450.3L2096.7,1450.3L2101.5,1450.3" fill="none" stroke="#ff8000" stroke-width="2.6" stroke-linejoin="round" stroke-linecap="butt"/>
<circle cx="1677.7" cy="1678.5" r="10.6" fill="#ff8000"/>
<circle cx="1799.5" cy="1643.1" r="10.6" fill="#ff8000"/>
<circle cx="1849.9" cy="1643.1" r="10.6" fill="#ff8000"/>
<circle cx="1900.2" cy="1601.8" r="10.6" fill="#ff8000"/>
<circle cx="1950.5" cy="1493.5" r="10.6" fill="#ff8000"/>
<circle cx="2000.8" cy="1456.1" r="10.6" fill="#ff8000"/>
<circle cx="2051.2" cy="1453.6" r="10.6" fill="#ff8000"/>
<circle cx="2101.5" cy="1450.2" r="10.6" fill="#ff8000"/>
<path d="M1662.2,1680.7L1666.9,1680.7L1671.6,1680.7L1676.3,1680.7L1681.0,1680.7L1685.7,1680.7L1690.4,1680.6L1695.0,1680.6L1699.7,1680.6L1704.4,1680.6L1709.1,1680.6L1713.8,1680.5L1718.5,1680.5L1723.2,1680.5L1727.9,1680.4L1732.6,1680.4L1737.3,1680.3L1742.0,1680.2L1746.7,1680.1L1751.4,1680.0L1756.0,1679.8L1760.7,1679.6L1765.4,1679.4L1770.1,1679.1L1774.8,1678.8L1779.5,1678.4L1784.2,1677.9L1788.9,1677.3L1793.6,1676.7L1798.3,1675.8L1803.0,1674.8L1807.7,1673.7L1812.4,1672.3L1817.1,1670.6L1821.7,1668.6L1826.4,1666.2L1831.1,1663.5L1835.8,1660.2L1840.5,1656.4L1845.2,1652.1L1849.9,1647.1L1854.6,1641.4L1859.3,1634.9L1864.0,1627.8L1868.7,1619.9L1873.4,1611.4L1878.1,1602.3L1882.7,1592.7L1887.4,1582.8L1892.1,1572.8L1896.8,1562.8L1901.5,1553.1L1906.2,1543.6L1910.9,1534.7L1915.6,1526.4L1920.3,1518.8L1925.0,1511.9L1929.7,1505.7L1934.4,1500.2L1939.1,1495.4L1943.7,1491.3L1948.4,1487.7L1953.1,1484.6L1957.8,1482.0L1962.5,1479.8L1967.2,1477.9L1971.9,1476.3L1976.6,1475.0L1981.3,1473.9L1986.0,1472.9L1990.7,1472.2L1995.4,1471.5L2000.1,1471.0L2004.7,1470.5L2009.4,1470.2L2014.1,1469.9L2018.8,1469.6L2023.5,1469.4L2028.2,1469.2L2032.9,1469.1L2037.6,1468.9L2042.3,1468.8L2047.0,1468.8L2051.7,1468.7L2056.4,1468.6L2061.1,1468.6L2065.7,1468.5L2070.4,1468.5L2075.1,1468.5L2079.8,1468.5" fill="none" stroke="#5aa0f5" stroke-width="2.6" stroke-linejoin="round" stroke-linecap="butt"/>
<circle cx="1662.2" cy="1679.1" r="10.6" fill="#5aa0f5"/>
<circle cx="1776.9" cy="1700.3" r="10.6" fill="#5aa0f5"/>
<circle cx="1819.7" cy="1652.7" r="10.6" fill="#5aa0f5"/>
<circle cx="1863.1" cy="1637.0" r="10.6" fill="#5aa0f5"/>
<circle cx="1906.4" cy="1543.2" r="10.6" fill="#5aa0f5"/>
<circle cx="1949.8" cy="1484.5" r="10.6" fill="#5aa0f5"/>
<circle cx="1993.1" cy="1473.2" r="10.6" fill="#5aa0f5"/>
<circle cx="2036.5" cy="1469.4" r="10.6" fill="#5aa0f5"/>
<circle cx="2079.8" cy="1469.9" r="10.6" fill="#5aa0f5"/>
<path d="M1656.0,1681.6L1660.8,1681.6L1665.5,1681.5L1670.3,1681.5L1675.0,1681.5L1679.8,1681.5L1684.6,1681.5L1689.3,1681.4L1694.1,1681.4L1698.9,1681.4L1703.6,1681.3L1708.4,1681.2L1713.1,1681.2L1717.9,1681.1L1722.7,1681.0L1727.4,1680.8L1732.2,1680.7L1737.0,1680.5L1741.7,1680.3L1746.5,1680.0L1751.2,1679.7L1756.0,1679.3L1760.8,1678.8L1765.5,1678.3L1770.3,1677.6L1775.1,1676.9L1779.8,1675.9L1784.6,1674.8L1789.3,1673.5L1794.1,1672.0L1798.9,1670.1L1803.6,1667.9L1808.4,1665.4L1813.1,1662.4L1817.9,1658.9L1822.7,1654.9L1827.4,1650.3L1832.2,1645.0L1837.0,1639.1L1841.7,1632.4L1846.5,1624.9L1851.2,1616.8L1856.0,1607.9L1860.8,1598.5L1865.5,1588.6L1870.3,1578.3L1875.1,1567.9L1879.8,1557.4L1884.6,1547.1L1889.3,1537.1L1894.1,1527.6L1898.9,1518.6L1903.6,1510.3L1908.4,1502.7L1913.2,1495.9L1917.9,1489.8L1922.7,1484.4L1927.4,1479.6L1932.2,1475.5L1937.0,1471.9L1941.7,1468.8L1946.5,1466.2L1951.2,1464.0L1956.0,1462.1L1960.8,1460.4L1965.5,1459.1L1970.3,1457.9L1975.1,1457.0L1979.8,1456.2L1984.6,1455.5L1989.3,1454.9L1994.1,1454.5L1998.9,1454.1L2003.6,1453.7L2008.4,1453.4L2013.2,1453.2L2017.9,1453.0L2022.7,1452.9L2027.4,1452.7L2032.2,1452.6L2037.0,1452.5L2041.7,1452.4L2046.5,1452.4L2051.3,1452.3L2056.0,1452.3L2060.8,1452.2L2065.5,1452.2L2070.3,1452.2L2075.1,1452.2L2079.8,1452.1" fill="none" stroke="#ff0000" stroke-width="5.8" stroke-linejoin="round" stroke-linecap="butt"/>
<circle cx="1656.0" cy="1676.2" r="10.6" fill="#ff0000"/>
<circle cx="1777.9" cy="1685.2" r="10.6" fill="#ff0000"/>
<circle cx="1828.2" cy="1644.6" r="10.6" fill="#ff0000"/>
<circle cx="1878.5" cy="1563.5" r="10.6" fill="#ff0000"/>
<circle cx="1928.8" cy="1474.4" r="10.6" fill="#ff0000"/>
<circle cx="1979.2" cy="1455.9" r="10.6" fill="#ff0000"/>
<circle cx="2029.5" cy="1454.5" r="10.6" fill="#ff0000"/>
<circle cx="2079.8" cy="1454.5" r="10.6" fill="#ff0000"/>
<g font-family="'Liberation Sans','DejaVu Sans',sans-serif" font-size="37" fill="#000">
<rect x="2328.3" y="1450.1" width="54.8" height="5.6" fill="#ff0000"/>
<circle cx="2355.7" cy="1452.9" r="10.5" fill="#ff0000"/>
<text transform="translate(2413.4,1464.9) scale(1.047,1)">Human PBMC</text>
<rect x="2328.3" y="1496.0" width="54.8" height="2.8" fill="#5aa0f5"/>
<circle cx="2355.7" cy="1497.4" r="10.5" fill="#5aa0f5"/>
<text transform="translate(2413.4,1509) scale(1.047,1)">Mouse Splenocytes</text>
<rect x="2328.3" y="1542.4" width="54.8" height="2.8" fill="#ff8000"/>
<circle cx="2355.7" cy="1543.8" r="10.5" fill="#ff8000"/>
<text transform="translate(2413.4,1554.9) scale(1.047,1)">Rat PBMC</text>
<rect x="2328.3" y="1594.1" width="54.8" height="2.8" fill="#14b978"/>
<circle cx="2355.7" cy="1595.5" r="10.5" fill="#14b978"/>
<text transform="translate(2413.4,1606.4) scale(1.047,1)">Dog PBMC</text>
<rect x="2328.3" y="1646.3" width="54.8" height="2.8" fill="#000"/>
<circle cx="2355.7" cy="1647.7" r="10.5" fill="#000"/>
<text transform="translate(2413.4,1659.3) scale(1.047,1)">Monkey PBMC</text>
</g>
<g fill="#000">
<rect x="1134.4" y="1923.8" width="1764.1" height="4.8"/>
<rect x="1134.4" y="2067" width="1764.1" height="5"/>
<rect x="1134.4" y="1923.8" width="5" height="148.20000000000005"/>
<rect x="2893.5" y="1923.8" width="5" height="148.20000000000005"/>
<rect x="1134.4" y="1971.2" width="1764.1" height="5"/>
<rect x="1134.4" y="2021" width="1764.1" height="1.6"/>
<rect x="1352.8" y="1923.8" width="5" height="148.20000000000005"/>
<rect x="1702.1" y="1923.8" width="5" height="148.20000000000005"/>
<rect x="2093.7" y="1923.8" width="1.6" height="148.20000000000005"/>
<rect x="2331.7" y="1923.8" width="1.6" height="148.20000000000005"/>
<rect x="2581.7" y="1923.8" width="1.6" height="148.20000000000005"/>
</g>
<g font-family="'Liberation Sans','DejaVu Sans',sans-serif" font-size="36" fill="#000">
<text x="1404.5" y="1960.5" textLength="256" lengthAdjust="spacingAndGlyphs" font-weight="bold">Human PBMC</text>
<text x="1723.9" y="1960.5" textLength="363.6" lengthAdjust="spacingAndGlyphs" font-weight="bold">Mouse Splenocytes</text>
<text x="2120.8" y="1960.5" textLength="186" lengthAdjust="spacingAndGlyphs" font-weight="bold">Rat PBMC</text>
<text x="2358" y="1960.5" textLength="201" lengthAdjust="spacingAndGlyphs" font-weight="bold">Dog PBMC</text>
<text x="2608.4" y="1960.5" textLength="267" lengthAdjust="spacingAndGlyphs" font-weight="bold">Monkey PBMC</text>
<text x="1164.5" y="2008.5" textLength="148" lengthAdjust="spacingAndGlyphs" font-weight="bold">Dmax,%</text>
<text x="1164.5" y="2055.3" textLength="166" lengthAdjust="spacingAndGlyphs" font-weight="bold">DC50,pM</text>
<text x="1581.8" y="2008.5" textLength="96.6" lengthAdjust="spacingAndGlyphs">99.40</text>
<text x="1603.8" y="2055.3" textLength="74.6" lengthAdjust="spacingAndGlyphs">7.27</text>
<text x="1969.1" y="2008.5" textLength="96.6" lengthAdjust="spacingAndGlyphs">92.17</text>
<text x="1969.1" y="2055.3" textLength="96.6" lengthAdjust="spacingAndGlyphs">12.05</text>
<text x="2188.0" y="2008.5" textLength="117.8" lengthAdjust="spacingAndGlyphs">100.20</text>
<text x="2207.1" y="2055.3" textLength="96.6" lengthAdjust="spacingAndGlyphs">30.94</text>
<text x="2458.4" y="2008.5" textLength="96.6" lengthAdjust="spacingAndGlyphs">94.74</text>
<text x="2458.4" y="2055.3" textLength="96.6" lengthAdjust="spacingAndGlyphs">37.80</text>
<text x="2771.4" y="2008.5" textLength="96.6" lengthAdjust="spacingAndGlyphs">96.29</text>
<text x="2793.4" y="2055.3" textLength="74.6" lengthAdjust="spacingAndGlyphs">8.00</text>
</g>
<g font-family="'Liberation Sans','DejaVu Sans',sans-serif" font-weight="bold" fill="#111" stroke="#111" stroke-width="0.55" stroke-linejoin="round" filter="url(#tb)">
<text x="543.2" y="1025.6" textLength="96.2" lengthAdjust="spacingAndGlyphs" font-size="27">I-2, 24h</text>
<rect x="316.9" y="1041.9" width="596.4" height="3.2" fill="#9c9c9c" stroke="none"/>
<text transform="translate(359.8,1142.6) rotate(-90)" textLength="62.7" lengthAdjust="spacingAndGlyphs" font-size="31.5">5000</text>
<text transform="translate(442.7,1142.6) rotate(-90)" textLength="62.7" lengthAdjust="spacingAndGlyphs" font-size="31.5">1000</text>
<text transform="translate(514.9,1142.6) rotate(-90)" textLength="46.4" lengthAdjust="spacingAndGlyphs" font-size="31.5">200</text>
<text transform="translate(602.4,1142.6) rotate(-90)" textLength="30.9" lengthAdjust="spacingAndGlyphs" font-size="31.5">40</text>
<text transform="translate(674.7,1142.6) rotate(-90)" textLength="15.5" lengthAdjust="spacingAndGlyphs" font-size="31.5">8</text>
<text transform="translate(743.9,1142.6) rotate(-90)" textLength="38.1" lengthAdjust="spacingAndGlyphs" font-size="31.5">1.6</text>
<text transform="translate(817.3,1142.6) rotate(-90)" textLength="62.8" lengthAdjust="spacingAndGlyphs" font-size="31.5">0. 32</text>
<text transform="translate(894.1,1142.6) rotate(-90)" textLength="80.6" lengthAdjust="spacingAndGlyphs" font-size="31.5">DMSO</text>
<text x="933.4" y="1132.1" textLength="40.7" lengthAdjust="spacingAndGlyphs" font-size="28">pM</text>
<text x="960.8" y="1192.2" textLength="79.9" lengthAdjust="spacingAndGlyphs" font-size="28">STAT6</text>
<text x="953.2" y="1267.9" textLength="92" lengthAdjust="spacingAndGlyphs" font-size="28">β-Actin</text>
<text x="99.7" y="1242.3" textLength="175" lengthAdjust="spacingAndGlyphs" font-size="29">Human PBMC</text>
<text transform="translate(350.3,1405.8999999999999) rotate(-90)" textLength="59.7" lengthAdjust="spacingAndGlyphs" font-size="31.5">5000</text>
<text transform="translate(421.8,1405.8999999999999) rotate(-90)" textLength="59.7" lengthAdjust="spacingAndGlyphs" font-size="31.5">1250</text>
<text transform="translate(491.0,1405.8999999999999) rotate(-90)" textLength="68.0" lengthAdjust="spacingAndGlyphs" font-size="31.5">312.5</text>
<text transform="translate(554.9,1405.8999999999999) rotate(-90)" textLength="68.0" lengthAdjust="spacingAndGlyphs" font-size="31.5">78.13</text>
<text transform="translate(624.8,1405.8999999999999) rotate(-90)" textLength="68.0" lengthAdjust="spacingAndGlyphs" font-size="31.5">19.53</text>
<text transform="translate(691.4,1405.8999999999999) rotate(-90)" textLength="53.6" lengthAdjust="spacingAndGlyphs" font-size="31.5">4.88</text>
<text transform="translate(756.4,1405.8999999999999) rotate(-90)" textLength="53.6" lengthAdjust="spacingAndGlyphs" font-size="31.5">1.22</text>
<text transform="translate(825.7,1405.8999999999999) rotate(-90)" textLength="53.6" lengthAdjust="spacingAndGlyphs" font-size="31.5">0.31</text>
<text transform="translate(896.0,1405.8999999999999) rotate(-90)" textLength="76.7" lengthAdjust="spacingAndGlyphs" font-size="31.5">DMSO</text>
<text x="948.2" y="1393.7" textLength="41.1" lengthAdjust="spacingAndGlyphs" font-size="28">pM</text>
<text x="977.9" y="1462.1" textLength="78.7" lengthAdjust="spacingAndGlyphs" font-size="28">STAT6</text>
<text x="976.8" y="1532.5" textLength="94.3" lengthAdjust="spacingAndGlyphs" font-size="28">GAPDH</text>
<text x="24" y="1507.4" textLength="266.7" lengthAdjust="spacingAndGlyphs" font-size="34">Mouse splenocytes</text>
<text transform="translate(395.9,1666.5) rotate(-90)" textLength="79.9" lengthAdjust="spacingAndGlyphs" font-size="31.5">10000</text>
<text transform="translate(462.4,1666.5) rotate(-90)" textLength="63.4" lengthAdjust="spacingAndGlyphs" font-size="31.5">2000</text>
<text transform="translate(536.6,1666.5) rotate(-90)" textLength="46.4" lengthAdjust="spacingAndGlyphs" font-size="31.5">400</text>
<text transform="translate(605.1,1666.5) rotate(-90)" textLength="53.6" lengthAdjust="spacingAndGlyphs" font-size="31.5">80.0</text>
<text transform="translate(675.4,1666.5) rotate(-90)" textLength="55.6" lengthAdjust="spacingAndGlyphs" font-size="31.5">16.0</text>
<text transform="translate(740.1,1666.5) rotate(-90)" textLength="38.1" lengthAdjust="spacingAndGlyphs" font-size="31.5">3.2</text>
<text transform="translate(799.0,1666.5) rotate(-90)" textLength="55.6" lengthAdjust="spacingAndGlyphs" font-size="31.5">0.64</text>
<text transform="translate(864.8,1666.5) rotate(-90)" textLength="71.1" lengthAdjust="spacingAndGlyphs" font-size="31.5">0.128</text>
<text transform="translate(932.9,1666.5) rotate(-90)" textLength="80.9" lengthAdjust="spacingAndGlyphs" font-size="31.5">DMSO</text>
<text x="996.9" y="1655.1" textLength="41.1" lengthAdjust="spacingAndGlyphs" font-size="28">pM</text>
<text x="981.7" y="1723.5" textLength="79.1" lengthAdjust="spacingAndGlyphs" font-size="28">STAT6</text>
<text x="979" y="1796.6" textLength="94" lengthAdjust="spacingAndGlyphs" font-size="28">GAPDH</text>
<text x="93.3" y="1753.8" textLength="188.3" lengthAdjust="spacingAndGlyphs" font-size="29">Monkey PBMC</text>
<text transform="translate(373.1,1921.3) rotate(-90)" textLength="79.9" lengthAdjust="spacingAndGlyphs" font-size="31.5">10000</text>
<text transform="translate(447.2,1923.6000000000001) rotate(-90)" textLength="64.7" lengthAdjust="spacingAndGlyphs" font-size="31.5">2000</text>
<text transform="translate(522.2,1925.2) rotate(-90)" textLength="47.8" lengthAdjust="spacingAndGlyphs" font-size="31.5">400</text>
<text transform="translate(596.7,1937.7) rotate(-90)" textLength="53.6" lengthAdjust="spacingAndGlyphs" font-size="31.5">80.0</text>
<text transform="translate(670.5,1936.9) rotate(-90)" textLength="54.8" lengthAdjust="spacingAndGlyphs" font-size="31.5">16.0</text>
<text transform="translate(745.8,1937.7) rotate(-90)" textLength="37.1" lengthAdjust="spacingAndGlyphs" font-size="31.5">3.2</text>
<text transform="translate(818.8,1937.7) rotate(-90)" textLength="55.6" lengthAdjust="spacingAndGlyphs" font-size="31.5">0.64</text>
<text transform="translate(893.4,1935.0) rotate(-90)" textLength="81.4" lengthAdjust="spacingAndGlyphs" font-size="31.5">DMSO</text>
<text x="971" y="1922.7" textLength="41.1" lengthAdjust="spacingAndGlyphs" font-size="28">pM</text>
<text x="976" y="1998.8" textLength="78.7" lengthAdjust="spacingAndGlyphs" font-size="28">STAT6</text>
<text x="978.7" y="2100.3" textLength="94.3" lengthAdjust="spacingAndGlyphs" font-size="28">GAPDH</text>
<text x="121.6" y="2043.4" textLength="126.4" lengthAdjust="spacingAndGlyphs" font-size="29">Rat PBMC</text>
<text x="993.1" y="2225.3" textLength="79.1" lengthAdjust="spacingAndGlyphs" font-size="28">STAT6</text>
<text x="995" y="2313.5" textLength="94.3" lengthAdjust="spacingAndGlyphs" font-size="28">GAPDH</text>
<text x="145.1" y="2262.1" textLength="136" lengthAdjust="spacingAndGlyphs" font-size="29">Dog PBMC</text>
</g>
<clipPath id="c1"><rect x="315.6" y="1156.5" width="613.0" height="64.2"/></clipPath>
<rect x="315.6" y="1156.5" width="613.0" height="64.2" fill="#fbfbfb"/>
<g clip-path="url(#c1)"><g filter="url(#bl2)"><rect x="315.6" y="1156.5" width="613.0" height="64.2" fill="none"/>
<rect x="326.0" y="1177.5" width="50.0" height="5.0" rx="4.2" ry="2.5" fill="#000" fill-opacity="0.03"/>
<rect x="399.0" y="1177.5" width="50.0" height="5.0" rx="4.2" ry="2.5" fill="#000" fill-opacity="0.04"/>
<rect x="472.5" y="1177.5" width="52.0" height="5.0" rx="4.2" ry="2.5" fill="#000" fill-opacity="0.07"/>
<rect x="628.0" y="1204.5" width="46.0" height="5.0" rx="4.2" ry="2.5" fill="#000" fill-opacity="0.07"/>
</g></g>
<g clip-path="url(#c1)"><g filter="url(#bl)"><rect x="315.6" y="1156.5" width="613.0" height="64.2" fill="none"/>
<rect x="548.5" y="1177.6" width="52.0" height="5.0" rx="4.2" ry="2.5" fill="#000" fill-opacity="0.22"/>
<rect x="572.0" y="1177.8" width="28.0" height="5.0" rx="4.2" ry="2.5" fill="#000" fill-opacity="0.14"/>
<rect x="624.0" y="1178.0" width="32.0" height="6.0" rx="5.1" ry="3.0" fill="#000" fill-opacity="0.45"/>
<rect x="638.0" y="1177.8" width="38.0" height="7.5" rx="6.4" ry="3.8" fill="#000" fill-opacity="0.95"/>
<rect x="698.1" y="1175.2" width="59.0" height="13.7" rx="11.6" ry="6.8" fill="#000" fill-opacity="1"/>
<rect x="775.2" y="1174.3" width="58.0" height="14.6" rx="12.4" ry="7.3" fill="#000" fill-opacity="1"/>
<rect x="848.6" y="1174.1" width="63.4" height="13.2" rx="11.2" ry="6.6" fill="#000" fill-opacity="1" transform="rotate(-1 880.3 1180.7)"/>
<rect x="702.0" y="1204.8" width="50.0" height="5.0" rx="4.2" ry="2.5" fill="#000" fill-opacity="0.12"/>
<rect x="727.0" y="1204.8" width="26.0" height="5.0" rx="4.2" ry="2.5" fill="#000" fill-opacity="0.08"/>
<rect x="779.0" y="1203.8" width="50.0" height="6.0" rx="5.1" ry="3.0" fill="#000" fill-opacity="0.19"/>
<rect x="854.0" y="1204.5" width="54.0" height="5.0" rx="4.2" ry="2.5" fill="#000" fill-opacity="0.13"/>
<rect x="886.0" y="1204.0" width="22.0" height="5.0" rx="4.2" ry="2.5" fill="#000" fill-opacity="0.1"/>
</g></g>
<rect x="315.6" y="1156.5" width="613.0" height="64.2" fill="none" stroke="#2a2a2a" stroke-width="2.6" filter="url(#tb)"/>
<clipPath id="c2"><rect x="315.6" y="1234.8" width="613.0" height="61.3"/></clipPath>
<rect x="315.6" y="1234.8" width="613.0" height="61.3" fill="#fbfbfb"/>
<g clip-path="url(#c2)"><g filter="url(#bl)"><rect x="315.6" y="1234.8" width="613.0" height="61.3" fill="none"/>
<rect x="326.1" y="1250.0" width="56.4" height="13.5" rx="11.5" ry="6.8" fill="#000" fill-opacity="1"/>
<rect x="399.2" y="1250.0" width="57.9" height="13.5" rx="11.5" ry="6.8" fill="#000" fill-opacity="1"/>
<rect x="474.2" y="1250.5" width="55.5" height="13.5" rx="11.5" ry="6.8" fill="#000" fill-opacity="1" transform="rotate(2 502.0 1257.2)"/>
<rect x="547.2" y="1251.7" width="59.9" height="14.0" rx="11.9" ry="7.0" fill="#000" fill-opacity="1" transform="rotate(2 577.2 1258.7)"/>
<rect x="625.0" y="1253.8" width="58.2" height="14.0" rx="11.9" ry="7.0" fill="#000" fill-opacity="1" transform="rotate(2 654.1 1260.8)"/>
<rect x="699.5" y="1255.5" width="60.5" height="14.0" rx="11.9" ry="7.0" fill="#000" fill-opacity="1" transform="rotate(1 729.8 1262.5)"/>
<rect x="779.0" y="1255.5" width="58.4" height="14.0" rx="11.9" ry="7.0" fill="#000" fill-opacity="1"/>
<rect x="853.0" y="1254.0" width="65.5" height="13.5" rx="11.5" ry="6.8" fill="#000" fill-opacity="1" transform="rotate(-2 885.7 1260.8)"/>
</g></g>
<rect x="315.6" y="1234.8" width="613.0" height="61.3" fill="none" stroke="#2a2a2a" stroke-width="2.6" filter="url(#tb)"/>
<clipPath id="c3"><rect x="308.3" y="1422.1" width="646.6" height="59.9"/></clipPath>
<rect x="308.3" y="1422.1" width="646.6" height="59.9" fill="#f4f4f4"/>
<g clip-path="url(#c3)"><g filter="url(#bl2)"><rect x="308.3" y="1422.1" width="646.6" height="59.9" fill="none"/>
<rect x="320.0" y="1447.0" width="44.0" height="8.0" rx="6.8" ry="4.0" fill="#000" fill-opacity="0.035"/>
<rect x="391.0" y="1447.0" width="44.0" height="8.0" rx="6.8" ry="4.0" fill="#000" fill-opacity="0.035"/>
<rect x="459.0" y="1448.0" width="44.0" height="8.0" rx="6.8" ry="4.0" fill="#000" fill-opacity="0.06"/>
<rect x="526.8" y="1449.1" width="46.0" height="9.0" rx="7.6" ry="4.5" fill="#000" fill-opacity="0.1"/>
<rect x="320.0" y="1425.5" width="44.0" height="6.0" rx="5.1" ry="3.0" fill="#000" fill-opacity="0.06"/>
<rect x="391.0" y="1425.5" width="44.0" height="6.0" rx="5.1" ry="3.0" fill="#000" fill-opacity="0.06"/>
<rect x="459.0" y="1425.5" width="44.0" height="6.0" rx="5.1" ry="3.0" fill="#000" fill-opacity="0.05"/>
<rect x="527.0" y="1425.5" width="44.0" height="6.0" rx="5.1" ry="3.0" fill="#000" fill-opacity="0.03"/>
<rect x="595.0" y="1425.5" width="44.0" height="6.0" rx="5.1" ry="3.0" fill="#000" fill-opacity="0.03"/>
<rect x="662.0" y="1425.5" width="44.0" height="6.0" rx="5.1" ry="3.0" fill="#000" fill-opacity="0.05"/>
<rect x="661.0" y="1412.0" width="46.0" height="80.0" rx="13.8" ry="40.0" fill="#000" fill-opacity="0.06"/>
<rect x="727.0" y="1412.0" width="46.0" height="80.0" rx="13.8" ry="40.0" fill="#000" fill-opacity="0.045"/>
<rect x="793.6" y="1412.0" width="46.0" height="80.0" rx="13.8" ry="40.0" fill="#000" fill-opacity="0.045"/>
<rect x="862.6" y="1412.0" width="46.0" height="80.0" rx="13.8" ry="40.0" fill="#000" fill-opacity="0.06"/>
</g></g>
<g clip-path="url(#c3)"><g filter="url(#bl)"><rect x="308.3" y="1422.1" width="646.6" height="59.9" fill="none"/>
<rect x="528.3" y="1450.6" width="43.0" height="6.0" rx="5.1" ry="3.0" fill="#000" fill-opacity="0.24"/>
<rect x="596.2" y="1449.6" width="43.0" height="8.0" rx="6.8" ry="4.0" fill="#000" fill-opacity="0.58"/>
<rect x="659.3" y="1446.9" width="49.4" height="11.4" rx="9.7" ry="5.7" fill="#000" fill-opacity="1"/>
<rect x="725.7" y="1445.6" width="48.4" height="11.7" rx="9.9" ry="5.8" fill="#000" fill-opacity="1"/>
<rect x="791.9" y="1443.1" width="49.4" height="13.6" rx="11.6" ry="6.8" fill="#000" fill-opacity="1" transform="rotate(-1 816.6 1449.9)"/>
<rect x="859.9" y="1439.7" width="51.5" height="14.2" rx="12.1" ry="7.1" fill="#000" fill-opacity="1" transform="rotate(-3 885.6 1446.8)"/>
</g></g>
<rect x="308.3" y="1422.1" width="646.6" height="59.9" fill="none" stroke="#2a2a2a" stroke-width="2.6" filter="url(#tb)"/>
<clipPath id="c4"><rect x="310.8" y="1498.2" width="644.1" height="59.7"/></clipPath>
<rect x="310.8" y="1498.2" width="644.1" height="59.7" fill="#f6f6f6"/>
<g clip-path="url(#c4)"><g filter="url(#bl)"><rect x="310.8" y="1498.2" width="644.1" height="59.7" fill="none"/>
<rect x="321.0" y="1513.3" width="53.0" height="17.9" rx="15.2" ry="8.9" fill="#000" fill-opacity="1"/>
<rect x="388.6" y="1516.1" width="54.3" height="18.0" rx="15.3" ry="9.0" fill="#000" fill-opacity="1" transform="rotate(2 415.7 1525.1)"/>
<rect x="457.9" y="1518.0" width="52.7" height="17.5" rx="14.9" ry="8.8" fill="#000" fill-opacity="1"/>
<rect x="523.6" y="1519.5" width="51.8" height="17.5" rx="14.9" ry="8.8" fill="#000" fill-opacity="1"/>
<rect x="590.0" y="1519.8" width="53.0" height="17.5" rx="14.9" ry="8.8" fill="#000" fill-opacity="1"/>
<rect x="657.1" y="1520.3" width="51.5" height="17.5" rx="14.9" ry="8.8" fill="#000" fill-opacity="1"/>
<rect x="722.6" y="1519.9" width="50.3" height="15.4" rx="13.1" ry="7.7" fill="#000" fill-opacity="1"/>
<rect x="789.9" y="1519.9" width="52.1" height="15.4" rx="13.1" ry="7.7" fill="#000" fill-opacity="1"/>
<rect x="856.8" y="1516.0" width="56.1" height="17.0" rx="14.4" ry="8.5" fill="#000" fill-opacity="1" transform="rotate(-3.5 884.8 1524.5)"/>
</g></g>
<rect x="310.8" y="1498.2" width="644.1" height="59.7" fill="none" stroke="#2a2a2a" stroke-width="2.6" filter="url(#tb)"/>
<clipPath id="c5"><rect x="319.8" y="1680.2" width="638.6" height="64.4"/></clipPath>
<rect x="319.8" y="1680.2" width="638.6" height="64.4" fill="#fcfcfc"/>
<g clip-path="url(#c5)"><g filter="url(#bl2)"><rect x="319.8" y="1680.2" width="638.6" height="64.4" fill="none"/>
<rect x="355.9" y="1706.3" width="46.0" height="6.0" rx="5.1" ry="3.0" fill="#000" fill-opacity="0.06"/>
<rect x="427.6" y="1708.0" width="48.0" height="6.0" rx="5.1" ry="3.0" fill="#000" fill-opacity="0.08"/>
<rect x="497.3" y="1708.0" width="50.0" height="6.0" rx="5.1" ry="3.0" fill="#000" fill-opacity="0.1"/>
<rect x="571.7" y="1708.8" width="46.0" height="6.0" rx="5.1" ry="3.0" fill="#000" fill-opacity="0.2"/>
<rect x="705.0" y="1685.0" width="50.0" height="10.0" rx="8.5" ry="5.0" fill="#000" fill-opacity="0.025"/>
<rect x="767.0" y="1685.0" width="50.0" height="10.0" rx="8.5" ry="5.0" fill="#000" fill-opacity="0.03"/>
<rect x="831.0" y="1685.0" width="50.0" height="10.0" rx="8.5" ry="5.0" fill="#000" fill-opacity="0.03"/>
</g></g>
<g clip-path="url(#c5)"><g filter="url(#bl)"><rect x="319.8" y="1680.2" width="638.6" height="64.4" fill="none"/>
<rect x="640.0" y="1709.1" width="46.0" height="6.0" rx="5.1" ry="3.0" fill="#000" fill-opacity="0.32"/>
<rect x="662.0" y="1709.3" width="24.0" height="6.0" rx="5.1" ry="3.0" fill="#000" fill-opacity="0.25"/>
<rect x="707.3" y="1707.7" width="46.0" height="9.5" rx="8.1" ry="4.8" fill="#000" fill-opacity="1"/>
<rect x="767.7" y="1706.5" width="48.0" height="10.7" rx="9.1" ry="5.3" fill="#000" fill-opacity="1" transform="rotate(-1 791.7 1711.8)"/>
<rect x="830.4" y="1705.6" width="51.4" height="10.7" rx="9.1" ry="5.3" fill="#000" fill-opacity="1"/>
<rect x="896.2" y="1705.9" width="47.4" height="10.1" rx="8.6" ry="5.0" fill="#000" fill-opacity="1"/>
</g></g>
<rect x="319.8" y="1680.2" width="638.6" height="64.4" fill="none" stroke="#2a2a2a" stroke-width="2.6" filter="url(#tb)"/>
<clipPath id="c6"><rect x="320.7" y="1758.3" width="637.7" height="58.2"/></clipPath>
<rect x="320.7" y="1758.3" width="637.7" height="58.2" fill="#fcfcfc"/>
<g clip-path="url(#c6)"><g filter="url(#bl)"><rect x="320.7" y="1758.3" width="637.7" height="58.2" fill="none"/>
<rect x="347.4" y="1781.1" width="53.9" height="11.3" rx="9.6" ry="5.7" fill="#000" fill-opacity="1"/>
<rect x="419.5" y="1781.9" width="55.7" height="11.6" rx="9.9" ry="5.8" fill="#000" fill-opacity="1"/>
<rect x="491.2" y="1782.2" width="59.1" height="12.2" rx="10.4" ry="6.1" fill="#000" fill-opacity="1" transform="rotate(-1 520.8 1788.3)"/>
<rect x="568.7" y="1780.8" width="56.0" height="13.8" rx="11.7" ry="6.9" fill="#000" fill-opacity="1"/>
<rect x="639.1" y="1779.5" width="54.2" height="14.7" rx="12.5" ry="7.3" fill="#000" fill-opacity="1" transform="rotate(-1 666.2 1786.8)"/>
<rect x="707.4" y="1779.1" width="53.3" height="15.3" rx="13.0" ry="7.7" fill="#000" fill-opacity="1"/>
<rect x="769.2" y="1780.5" width="55.1" height="13.8" rx="11.7" ry="6.9" fill="#000" fill-opacity="1"/>
<rect x="832.8" y="1777.8" width="58.8" height="15.0" rx="12.8" ry="7.5" fill="#000" fill-opacity="1"/>
<rect x="899.0" y="1779.3" width="66.0" height="14.0" rx="11.9" ry="7.0" fill="#000" fill-opacity="1"/>
</g></g>
<rect x="320.7" y="1758.3" width="637.7" height="58.2" fill="none" stroke="#2a2a2a" stroke-width="2.6" filter="url(#tb)"/>
<clipPath id="c7"><rect x="320.7" y="1942.6" width="637.7" height="92.5"/></clipPath>
<rect x="320.7" y="1942.6" width="637.7" height="92.5" fill="#fdfdfd"/>
<g clip-path="url(#c7)"><g filter="url(#bl2)"><rect x="320.7" y="1942.6" width="637.7" height="92.5" fill="none"/>
<rect x="400.0" y="1984.5" width="50.0" height="5.0" rx="4.2" ry="2.5" fill="#000" fill-opacity="0.05"/>
<rect x="472.4" y="1985.6" width="56.0" height="6.0" rx="5.1" ry="3.0" fill="#000" fill-opacity="0.13"/>
<rect x="701.0" y="2013.0" width="56.0" height="18.0" rx="15.3" ry="9.0" fill="#000" fill-opacity="0.02"/>
<rect x="777.0" y="2013.0" width="56.0" height="18.0" rx="15.3" ry="9.0" fill="#000" fill-opacity="0.02"/>
<rect x="856.0" y="2013.0" width="56.0" height="18.0" rx="15.3" ry="9.0" fill="#000" fill-opacity="0.02"/>
</g></g>
<g clip-path="url(#c7)"><g filter="url(#bl)"><rect x="320.7" y="1942.6" width="637.7" height="92.5" fill="none"/>
<rect x="545.8" y="1986.5" width="59.7" height="6.0" rx="5.1" ry="3.0" fill="#000" fill-opacity="0.34"/>
<rect x="575.0" y="1987.0" width="30.0" height="6.0" rx="5.1" ry="3.0" fill="#000" fill-opacity="0.22"/>
<rect x="619.8" y="1984.0" width="65.2" height="12.2" rx="10.4" ry="6.1" fill="#000" fill-opacity="1"/>
<rect x="695.1" y="1982.3" width="68.6" height="16.8" rx="14.3" ry="8.4" fill="#000" fill-opacity="1"/>
<rect x="770.8" y="1982.9" width="68.9" height="16.2" rx="13.8" ry="8.1" fill="#000" fill-opacity="1"/>
<rect x="848.8" y="1980.5" width="71.0" height="16.2" rx="13.8" ry="8.1" fill="#000" fill-opacity="1" transform="rotate(-1.5 884.3 1988.6)"/>
</g></g>
<rect x="320.7" y="1942.6" width="637.7" height="92.5" fill="none" stroke="#2a2a2a" stroke-width="2.6" filter="url(#tb)"/>
<clipPath id="c8"><rect x="320.7" y="2051.3" width="637.7" height="93.4"/></clipPath>
<rect x="320.7" y="2051.3" width="637.7" height="93.4" fill="#fdfdfd"/>
<g clip-path="url(#c8)"><g filter="url(#bl)"><rect x="320.7" y="2051.3" width="637.7" height="93.4" fill="none"/>
<rect x="323.8" y="2090.8" width="64.3" height="12.9" rx="11.0" ry="6.5" fill="#000" fill-opacity="1" transform="rotate(1 355.9 2097.2)"/>
<rect x="402.4" y="2093.4" width="57.6" height="12.0" rx="10.2" ry="6.0" fill="#000" fill-opacity="1"/>
<rect x="470.7" y="2094.1" width="62.8" height="12.5" rx="10.6" ry="6.2" fill="#000" fill-opacity="1"/>
<rect x="548.1" y="2094.4" width="60.3" height="13.5" rx="11.5" ry="6.8" fill="#000" fill-opacity="1" transform="rotate(1 578.3 2101.2)"/>
<rect x="620.7" y="2095.7" width="65.8" height="13.5" rx="11.5" ry="6.8" fill="#000" fill-opacity="1"/>
<rect x="698.8" y="2096.1" width="64.3" height="13.5" rx="11.5" ry="6.8" fill="#000" fill-opacity="1"/>
<rect x="772.9" y="2094.4" width="66.7" height="13.0" rx="11.0" ry="6.5" fill="#000" fill-opacity="1" transform="rotate(-2.5 806.2 2100.9)"/>
<rect x="853.4" y="2092.4" width="67.3" height="11.5" rx="9.8" ry="5.8" fill="#000" fill-opacity="1" transform="rotate(-1 887.0 2098.2)"/>
</g></g>
<rect x="320.7" y="2051.3" width="637.7" height="93.4" fill="none" stroke="#2a2a2a" stroke-width="2.6" filter="url(#tb)"/>
<clipPath id="c9"><rect x="315.8" y="2176.3" width="644.7" height="77.2"/></clipPath>
<rect x="315.8" y="2176.3" width="644.7" height="77.2" fill="#fcfcfc"/>
<g clip-path="url(#c9)"><g filter="url(#bl2)"><rect x="315.8" y="2176.3" width="644.7" height="77.2" fill="none"/>
<rect x="369.9" y="2214.0" width="46.0" height="8.0" rx="6.8" ry="4.0" fill="#000" fill-opacity="0.03"/>
<rect x="442.4" y="2214.0" width="46.0" height="8.0" rx="6.8" ry="4.0" fill="#000" fill-opacity="0.035"/>
<rect x="510.4" y="2214.4" width="50.0" height="9.0" rx="7.6" ry="4.5" fill="#000" fill-opacity="0.1"/>
<rect x="583.0" y="2216.5" width="50.0" height="9.0" rx="7.6" ry="4.5" fill="#000" fill-opacity="0.1"/>
<rect x="721.0" y="2194.0" width="56.0" height="24.0" rx="16.8" ry="12.0" fill="#000" fill-opacity="0.15"/>
<rect x="789.0" y="2193.0" width="56.0" height="24.0" rx="16.8" ry="12.0" fill="#000" fill-opacity="0.15"/>
<rect x="724.0" y="2184.0" width="50.0" height="10.0" rx="8.5" ry="5.0" fill="#000" fill-opacity="0.06"/>
<rect x="792.0" y="2183.0" width="50.0" height="11.0" rx="9.3" ry="5.5" fill="#000" fill-opacity="0.09"/>
<rect x="867.0" y="2183.5" width="48.0" height="9.0" rx="7.6" ry="4.5" fill="#000" fill-opacity="0.04"/>
<rect x="867.0" y="2196.5" width="48.0" height="9.0" rx="7.6" ry="4.5" fill="#000" fill-opacity="0.04"/>
<rect x="652.0" y="2241.0" width="50.0" height="10.0" rx="8.5" ry="5.0" fill="#000" fill-opacity="0.09"/>
<rect x="723.0" y="2234.0" width="52.0" height="10.0" rx="8.5" ry="5.0" fill="#000" fill-opacity="0.13"/>
<rect x="791.0" y="2233.0" width="52.0" height="10.0" rx="8.5" ry="5.0" fill="#000" fill-opacity="0.13"/>
<rect x="866.0" y="2230.0" width="50.0" height="7.0" rx="6.0" ry="3.5" fill="#000" fill-opacity="0.16"/>
<rect x="585.0" y="2237.0" width="46.0" height="10.0" rx="8.5" ry="5.0" fill="#000" fill-opacity="0.03"/>
</g></g>
<g clip-path="url(#c9)"><g filter="url(#bl)"><rect x="315.8" y="2176.3" width="644.7" height="77.2" fill="none"/>
<rect x="584.1" y="2218.0" width="47.8" height="6.0" rx="23.9" ry="3.0" fill="#000" fill-opacity="0.2"/>
<rect x="651.9" y="2216.2" width="50.9" height="8.3" rx="25.4" ry="4.2" fill="#000" fill-opacity="1" transform="rotate(-1 677.4 2220.4)"/>
<rect x="723.0" y="2211.5" width="52.4" height="14.8" rx="26.2" ry="7.4" fill="#000" fill-opacity="1"/>
<rect x="790.8" y="2210.5" width="52.4" height="13.9" rx="26.2" ry="7.0" fill="#000" fill-opacity="1" transform="rotate(-1.5 817.0 2217.4)"/>
<rect x="864.8" y="2210.6" width="52.4" height="8.6" rx="26.2" ry="4.3" fill="#000" fill-opacity="1" transform="rotate(-3 891.0 2214.9)"/>
</g></g>
<rect x="315.8" y="2176.3" width="644.7" height="77.2" fill="none" stroke="#2a2a2a" stroke-width="2.6" filter="url(#tb)"/>
<clipPath id="c10"><rect x="315.8" y="2265.1" width="644.7" height="78.4"/></clipPath>
<rect x="315.8" y="2265.1" width="644.7" height="78.4" fill="#fcfcfc"/>
<g clip-path="url(#c10)"><g filter="url(#bl2)"><rect x="315.8" y="2265.1" width="644.7" height="78.4" fill="none"/>
<rect x="872.0" y="2281.7" width="46.0" height="7.0" rx="6.0" ry="3.5" fill="#000" fill-opacity="0.2"/>
<rect x="797.0" y="2283.0" width="46.0" height="7.0" rx="6.0" ry="3.5" fill="#000" fill-opacity="0.07"/>
<rect x="726.0" y="2284.5" width="46.0" height="7.0" rx="6.0" ry="3.5" fill="#000" fill-opacity="0.03"/>
<rect x="873.0" y="2315.0" width="44.0" height="26.0" rx="13.2" ry="13.0" fill="#000" fill-opacity="0.04"/>
</g></g>
<g clip-path="url(#c10)"><g filter="url(#bl)"><rect x="315.8" y="2265.1" width="644.7" height="78.4" fill="none"/>
<rect x="363.6" y="2299.0" width="50.0" height="7.7" rx="25.0" ry="3.9" fill="#000" fill-opacity="1"/>
<rect x="440.1" y="2300.4" width="46.3" height="7.1" rx="23.1" ry="3.5" fill="#000" fill-opacity="1" transform="rotate(3 463.2 2304.0)"/>
<rect x="507.0" y="2300.5" width="52.4" height="10.8" rx="26.2" ry="5.4" fill="#000" fill-opacity="1" transform="rotate(1 533.2 2305.9)"/>
<rect x="580.5" y="2302.0" width="52.1" height="10.8" rx="26.1" ry="5.4" fill="#000" fill-opacity="1"/>
<rect x="650.5" y="2303.3" width="52.4" height="10.0" rx="26.2" ry="5.0" fill="#000" fill-opacity="1"/>
<rect x="722.0" y="2302.9" width="54.0" height="10.8" rx="27.0" ry="5.4" fill="#000" fill-opacity="1"/>
<rect x="792.9" y="2301.4" width="54.9" height="10.8" rx="27.4" ry="5.4" fill="#000" fill-opacity="1" transform="rotate(-1 820.4 2306.8)"/>
<rect x="868.8" y="2299.3" width="54.0" height="10.5" rx="27.0" ry="5.2" fill="#000" fill-opacity="1" transform="rotate(-2.5 895.8 2304.6)"/>
</g></g>
<rect x="315.8" y="2265.1" width="644.7" height="78.4" fill="none" stroke="#2a2a2a" stroke-width="2.6" filter="url(#tb)"/>
</svg>
</body></html>
